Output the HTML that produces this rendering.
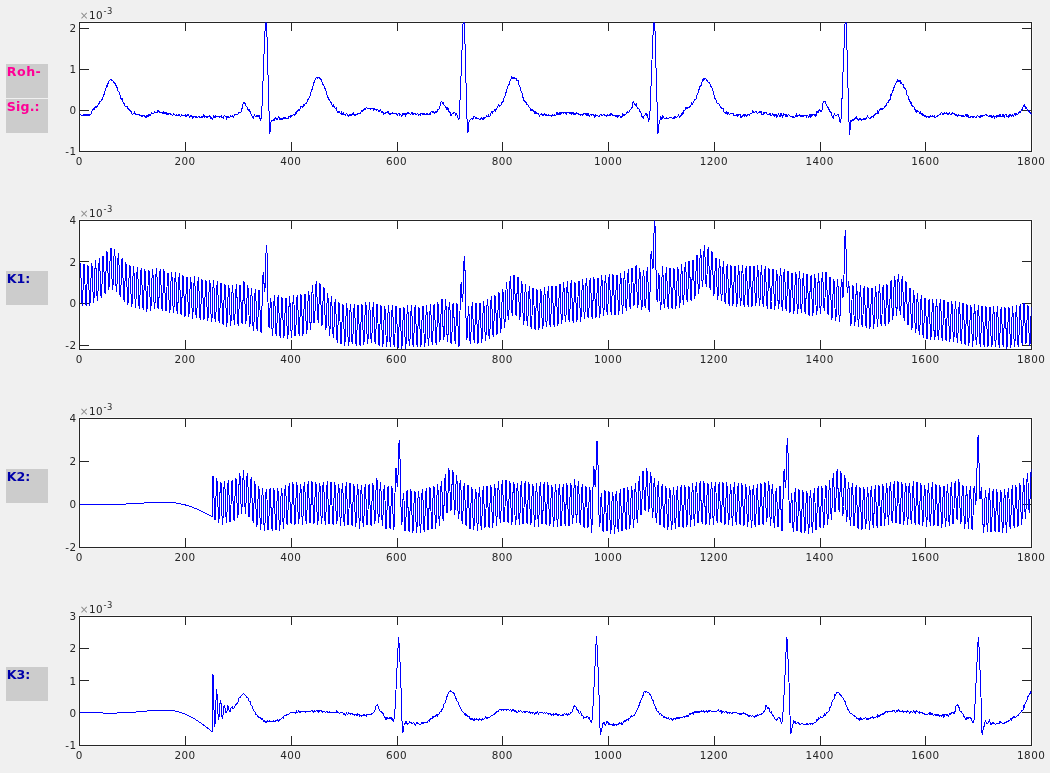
<!DOCTYPE html>
<html lang="de"><head><meta charset="utf-8"><title>Roh-Sig. K1 K2 K3</title>
<style>html,body{margin:0;padding:0;background:#f0f0f0;overflow:hidden}body{width:1050px;height:773px;position:relative}</style>
</head><body>
<svg width="1050" height="773" viewBox="0 0 1050 773" style="display:block;position:absolute;left:0;top:0">
<rect x="0" y="0" width="1050" height="773" fill="#f0f0f0"/>
<defs>
<clipPath id="c0"><rect x="79.5" y="22.5" width="952.0" height="129.0"/></clipPath>
<clipPath id="c1"><rect x="79.5" y="220.5" width="952.0" height="129.0"/></clipPath>
<clipPath id="c2"><rect x="79.5" y="418.5" width="952.0" height="129.0"/></clipPath>
<clipPath id="c3"><rect x="79.5" y="616.5" width="952.0" height="129.0"/></clipPath>
</defs>
<rect x="78.7" y="21.5" width="953.8" height="130.8" fill="#fff"/>
<g stroke="#262626" stroke-width="1" fill="none">
<rect x="79.5" y="22.5" width="952.0" height="129.0"/>
<path d="M185.50 151.5v-9.5M185.50 22.5v8.5"/>
<path d="M291.50 151.5v-9.5M291.50 22.5v8.5"/>
<path d="M397.50 151.5v-9.5M397.50 22.5v8.5"/>
<path d="M502.50 151.5v-9.5M502.50 22.5v8.5"/>
<path d="M608.50 151.5v-9.5M608.50 22.5v8.5"/>
<path d="M714.50 151.5v-9.5M714.50 22.5v8.5"/>
<path d="M820.50 151.5v-9.5M820.50 22.5v8.5"/>
<path d="M925.50 151.5v-9.5M925.50 22.5v8.5"/>
<path d="M79.5 110.50h9.5M1031.5 110.50h-9.5"/>
<path d="M79.5 69.50h9.5M1031.5 69.50h-9.5"/>
<path d="M79.5 28.50h9.5M1031.5 28.50h-9.5"/>
</g>
<polyline clip-path="url(#c0)" fill="none" stroke="#0000ff" stroke-width="1" shape-rendering="crispEdges" stroke-linejoin="round" points="80.3,114.9 80.8,114.6 81.3,115.1 81.9,115.7 82.4,115.5 82.9,115.9 83.5,115.0 84.0,113.7 84.5,115.0 85.0,115.5 85.6,114.6 86.1,114.5 86.6,114.7 87.2,115.7 87.7,115.0 88.2,114.0 88.7,115.4 89.3,114.6 89.8,115.2 90.3,114.4 90.9,114.1 91.4,112.0 91.9,111.7 92.4,109.5 93.0,108.8 93.5,108.6 94.0,110.3 94.6,108.5 95.1,107.2 95.6,106.5 96.1,107.5 96.7,106.5 97.2,106.3 97.7,105.9 98.3,103.8 98.8,104.6 99.3,103.6 99.8,101.7 100.4,101.9 100.9,100.9 101.4,99.7 102.0,98.7 102.5,99.0 103.0,97.0 103.5,94.1 104.1,94.9 104.6,91.9 105.1,90.5 105.7,89.9 106.2,86.2 106.7,85.3 107.3,86.1 107.8,84.3 108.3,82.4 108.8,81.8 109.4,80.1 109.9,80.2 110.4,79.6 111.0,78.7 111.5,80.4 112.0,80.3 112.5,80.9 113.1,80.8 113.6,82.2 114.1,82.8 114.7,83.2 115.2,83.0 115.7,83.6 116.2,86.7 116.8,87.8 117.3,87.4 117.8,90.6 118.4,91.3 118.9,92.1 119.4,92.3 119.9,94.2 120.5,96.8 121.0,98.5 121.5,99.4 122.1,98.7 122.6,101.0 123.1,102.3 123.6,102.6 124.2,103.9 124.7,104.7 125.2,106.2 125.8,106.1 126.3,106.9 126.8,106.3 127.3,107.0 127.9,108.4 128.4,108.6 128.9,109.9 129.5,109.3 130.0,110.4 130.5,110.6 131.1,112.6 131.6,112.0 132.1,113.9 132.6,114.9 133.2,113.7 133.7,114.0 134.2,113.4 134.8,111.6 135.3,114.0 135.8,114.7 136.3,114.2 136.9,113.9 137.4,114.7 137.9,115.0 138.5,114.3 139.0,114.4 139.5,115.9 140.0,115.5 140.6,115.3 141.1,116.4 141.6,115.6 142.2,116.3 142.7,115.0 143.2,115.3 143.7,115.5 144.3,116.1 144.8,115.9 145.3,117.4 145.9,117.0 146.4,115.5 146.9,117.3 147.4,115.2 148.0,116.7 148.5,114.9 149.0,115.7 149.6,114.4 150.1,114.4 150.6,115.8 151.1,113.5 151.7,112.4 152.2,113.4 152.7,113.6 153.3,113.3 153.8,113.6 154.3,111.7 154.9,112.5 155.4,112.2 155.9,112.6 156.4,112.5 157.0,113.0 157.5,110.9 158.0,111.6 158.6,111.0 159.1,111.6 159.6,112.5 160.1,112.4 160.7,112.6 161.2,112.2 161.7,112.5 162.3,112.6 162.8,113.6 163.3,113.4 163.8,111.2 164.4,112.9 164.9,113.8 165.4,112.8 166.0,111.7 166.5,114.1 167.0,113.7 167.5,113.9 168.1,115.2 168.6,113.3 169.1,113.6 169.7,113.8 170.2,114.6 170.7,113.8 171.2,114.6 171.8,114.5 172.3,115.4 172.8,115.8 173.4,113.7 173.9,114.9 174.4,114.7 174.9,114.9 175.5,115.4 176.0,115.6 176.5,114.7 177.1,115.4 177.6,115.5 178.1,115.4 178.7,114.4 179.2,114.7 179.7,115.1 180.2,116.1 180.8,117.0 181.3,115.2 181.8,114.7 182.4,115.7 182.9,115.4 183.4,115.1 183.9,115.0 184.5,115.0 185.0,116.2 185.5,114.8 186.1,116.8 186.6,115.6 187.1,115.5 187.6,115.2 188.2,114.3 188.7,114.4 189.2,116.9 189.8,117.9 190.3,115.9 190.8,116.9 191.3,116.5 191.9,115.5 192.4,117.5 192.9,118.5 193.5,116.5 194.0,116.2 194.5,116.5 195.0,116.3 195.6,117.1 196.1,117.9 196.6,116.8 197.2,117.3 197.7,118.0 198.2,116.3 198.8,116.3 199.3,116.1 199.8,117.2 200.3,117.2 200.9,117.5 201.4,117.4 201.9,116.5 202.5,117.1 203.0,116.3 203.5,116.1 204.0,114.6 204.6,117.3 205.1,116.0 205.6,116.4 206.2,116.5 206.7,117.8 207.2,117.3 207.7,116.0 208.3,116.5 208.8,116.5 209.3,116.8 209.9,115.6 210.4,116.3 210.9,118.5 211.4,117.7 212.0,118.5 212.5,119.9 213.0,117.8 213.6,115.6 214.1,116.3 214.6,117.7 215.1,117.7 215.7,115.9 216.2,116.3 216.7,116.6 217.3,116.7 217.8,116.7 218.3,116.0 218.8,116.0 219.4,116.4 219.9,117.6 220.4,116.5 221.0,117.2 221.5,115.9 222.0,117.6 222.5,117.2 223.1,116.8 223.6,118.0 224.1,115.6 224.7,115.1 225.2,116.9 225.7,116.2 226.3,116.3 226.8,119.1 227.3,117.2 227.8,116.8 228.4,116.8 228.9,117.8 229.4,117.3 230.0,117.1 230.5,115.9 231.0,116.3 231.5,116.8 232.1,115.5 232.6,116.8 233.1,116.9 233.7,117.9 234.2,115.0 234.7,114.6 235.2,114.6 235.8,114.6 236.3,115.0 236.8,114.8 237.4,114.9 237.9,114.5 238.4,113.8 238.9,112.0 239.5,112.0 240.0,112.3 240.5,112.4 241.1,112.1 241.6,109.6 242.1,108.3 242.6,106.5 243.2,103.3 243.7,102.8 244.2,102.9 244.8,102.7 245.3,104.5 245.8,105.5 246.3,106.3 246.9,106.9 247.4,109.1 247.9,109.0 248.5,110.0 249.0,109.3 249.5,111.1 250.1,111.2 250.6,111.3 251.1,114.0 251.6,115.9 252.2,116.4 252.7,117.0 253.2,118.5 253.8,117.2 254.3,114.5 254.8,115.7 255.3,116.1 255.9,116.8 256.4,115.7 256.9,116.8 257.5,117.0 258.0,114.8 258.5,116.1 259.0,114.8 259.6,116.4 260.1,119.8 260.6,120.4 261.2,117.6 261.7,114.4 262.2,101.7 262.7,89.0 263.3,74.4 263.8,59.3 264.3,45.9 264.9,34.2 265.4,22.0 265.9,10.2 266.4,20.9 267.0,36.6 267.5,55.8 268.0,75.0 268.6,95.0 269.1,114.3 269.6,133.5 270.1,131.3 270.7,126.3 271.2,120.0 271.7,120.1 272.3,120.2 272.8,121.1 273.3,119.3 273.9,120.5 274.4,120.1 274.9,118.0 275.4,117.6 276.0,118.4 276.5,120.0 277.0,119.2 277.6,119.2 278.1,118.1 278.6,116.4 279.1,117.8 279.7,119.2 280.2,119.8 280.7,118.9 281.3,118.7 281.8,119.6 282.3,118.7 282.8,119.6 283.4,117.9 283.9,117.4 284.4,117.5 285.0,118.6 285.5,117.9 286.0,118.0 286.5,118.2 287.1,118.0 287.6,118.6 288.1,118.8 288.7,116.6 289.2,116.8 289.7,116.4 290.2,115.4 290.8,117.5 291.3,117.0 291.8,115.8 292.4,115.2 292.9,115.6 293.4,114.3 294.0,114.5 294.5,115.7 295.0,115.2 295.5,113.0 296.1,112.4 296.6,114.0 297.1,111.0 297.7,110.4 298.2,109.4 298.7,110.2 299.2,109.9 299.8,110.1 300.3,106.5 300.8,107.5 301.4,106.0 301.9,107.0 302.4,106.3 302.9,107.3 303.5,106.1 304.0,104.2 304.5,105.4 305.1,103.4 305.6,103.1 306.1,103.6 306.6,102.4 307.2,101.3 307.7,99.9 308.2,99.2 308.8,98.6 309.3,97.2 309.8,96.4 310.3,95.2 310.9,92.5 311.4,89.8 311.9,90.1 312.5,87.7 313.0,86.3 313.5,85.2 314.0,82.4 314.6,82.0 315.1,79.2 315.6,79.5 316.2,77.7 316.7,77.8 317.2,78.3 317.8,77.1 318.3,77.4 318.8,77.2 319.3,77.8 319.9,79.1 320.4,78.9 320.9,79.5 321.5,79.6 322.0,82.0 322.5,82.7 323.0,85.0 323.6,84.4 324.1,86.5 324.6,88.7 325.2,88.9 325.7,89.1 326.2,92.8 326.7,94.7 327.3,96.0 327.8,97.8 328.3,97.5 328.9,99.3 329.4,100.4 329.9,100.3 330.4,102.2 331.0,102.4 331.5,104.1 332.0,105.3 332.6,106.7 333.1,104.2 333.6,106.0 334.1,106.7 334.7,107.6 335.2,108.1 335.7,108.7 336.3,107.6 336.8,110.3 337.3,111.9 337.8,112.1 338.4,112.7 338.9,111.5 339.4,111.2 340.0,113.0 340.5,113.9 341.0,113.3 341.6,111.7 342.1,115.2 342.6,113.4 343.1,114.3 343.7,112.9 344.2,114.5 344.7,114.4 345.3,115.4 345.8,115.3 346.3,113.2 346.8,113.3 347.4,114.6 347.9,115.4 348.4,116.5 349.0,115.4 349.5,114.8 350.0,114.7 350.5,114.7 351.1,115.6 351.6,114.9 352.1,114.6 352.7,113.4 353.2,112.6 353.7,114.2 354.2,115.2 354.8,114.7 355.3,114.9 355.8,115.1 356.4,114.4 356.9,115.0 357.4,113.6 357.9,113.7 358.5,113.3 359.0,113.3 359.5,113.5 360.1,113.5 360.6,112.4 361.1,112.1 361.6,111.0 362.2,110.5 362.7,111.2 363.2,109.8 363.8,110.2 364.3,109.5 364.8,108.7 365.3,109.9 365.9,108.2 366.4,107.6 366.9,107.9 367.5,108.2 368.0,108.2 368.5,108.8 369.1,108.4 369.6,108.5 370.1,108.1 370.6,109.2 371.2,108.3 371.7,108.2 372.2,108.6 372.8,109.0 373.3,108.4 373.8,110.3 374.3,109.0 374.9,108.9 375.4,109.1 375.9,109.2 376.5,110.2 377.0,110.3 377.5,109.6 378.0,109.8 378.6,110.2 379.1,112.0 379.6,110.7 380.2,109.9 380.7,110.1 381.2,111.0 381.7,112.9 382.3,111.2 382.8,111.8 383.3,114.3 383.9,112.4 384.4,113.6 384.9,113.9 385.4,113.4 386.0,111.7 386.5,112.9 387.0,112.8 387.6,111.4 388.1,111.3 388.6,113.0 389.2,113.5 389.7,114.5 390.2,114.3 390.7,113.3 391.3,113.1 391.8,113.5 392.3,112.8 392.9,114.2 393.4,114.0 393.9,113.2 394.4,113.2 395.0,112.8 395.5,113.3 396.0,114.1 396.6,113.7 397.1,114.8 397.6,115.7 398.1,113.9 398.7,114.0 399.2,113.8 399.7,115.5 400.3,114.8 400.8,114.7 401.3,115.0 401.8,116.3 402.4,114.9 402.9,113.4 403.4,113.6 404.0,114.6 404.5,114.3 405.0,113.5 405.5,116.4 406.1,114.9 406.6,113.7 407.1,113.4 407.7,112.5 408.2,112.8 408.7,113.6 409.2,113.8 409.8,113.4 410.3,114.4 410.8,114.3 411.4,113.3 411.9,112.2 412.4,113.8 412.9,114.2 413.5,114.0 414.0,112.9 414.5,113.9 415.1,112.8 415.6,114.7 416.1,114.5 416.7,114.4 417.2,113.5 417.7,113.0 418.2,115.2 418.8,115.3 419.3,114.0 419.8,114.7 420.4,115.6 420.9,113.6 421.4,113.5 421.9,113.6 422.5,114.5 423.0,113.3 423.5,114.1 424.1,113.2 424.6,114.7 425.1,115.1 425.6,114.2 426.2,114.7 426.7,113.7 427.2,113.8 427.8,114.9 428.3,114.3 428.8,114.4 429.3,113.4 429.9,114.5 430.4,114.4 430.9,112.7 431.5,111.2 432.0,111.0 432.5,112.6 433.0,112.7 433.6,111.3 434.1,112.2 434.6,113.2 435.2,112.1 435.7,111.1 436.2,111.7 436.8,112.2 437.3,111.8 437.8,109.4 438.3,109.7 438.9,109.0 439.4,108.1 439.9,106.5 440.5,104.9 441.0,102.1 441.5,101.5 442.0,102.1 442.6,103.4 443.1,102.4 443.6,103.7 444.2,105.3 444.7,105.9 445.2,106.4 445.7,106.2 446.3,108.7 446.8,109.4 447.3,109.3 447.9,107.3 448.4,109.2 448.9,111.5 449.4,112.1 450.0,111.8 450.5,114.3 451.0,115.6 451.6,114.5 452.1,113.9 452.6,113.1 453.1,114.1 453.7,112.3 454.2,111.9 454.7,113.0 455.3,113.2 455.8,115.6 456.3,113.8 456.8,114.0 457.4,116.0 457.9,118.1 458.4,119.7 459.0,119.6 459.5,113.3 460.0,100.4 460.6,86.8 461.1,73.5 461.6,59.8 462.1,48.0 462.7,31.9 463.2,19.5 463.7,7.5 464.3,18.1 464.8,35.1 465.3,56.6 465.8,75.7 466.4,95.2 466.9,114.1 467.4,132.9 468.0,132.3 468.5,126.2 469.0,122.4 469.5,120.5 470.1,119.8 470.6,119.5 471.1,118.9 471.7,118.9 472.2,118.7 472.7,119.7 473.2,118.5 473.8,116.6 474.3,116.1 474.8,116.7 475.4,117.5 475.9,118.9 476.4,117.4 476.9,118.3 477.5,118.7 478.0,118.9 478.5,118.7 479.1,119.1 479.6,119.0 480.1,119.8 480.6,119.5 481.2,117.0 481.7,118.6 482.2,119.3 482.8,118.4 483.3,117.8 483.8,119.1 484.3,118.4 484.9,116.9 485.4,117.0 485.9,117.0 486.5,115.5 487.0,116.9 487.5,116.5 488.1,116.6 488.6,114.6 489.1,117.0 489.6,116.3 490.2,115.4 490.7,113.7 491.2,112.9 491.8,111.7 492.3,113.6 492.8,111.6 493.3,111.4 493.9,111.4 494.4,109.8 494.9,110.3 495.5,111.1 496.0,109.2 496.5,109.3 497.0,108.2 497.6,106.6 498.1,106.0 498.6,104.4 499.2,105.2 499.7,106.3 500.2,105.5 500.7,105.0 501.3,104.7 501.8,102.2 502.3,101.8 502.9,102.2 503.4,99.1 503.9,98.2 504.4,96.9 505.0,95.9 505.5,93.9 506.0,92.6 506.6,90.0 507.1,88.8 507.6,87.4 508.2,85.7 508.7,85.7 509.2,83.7 509.7,82.2 510.3,80.5 510.8,80.5 511.3,76.9 511.9,76.9 512.4,78.2 512.9,78.8 513.4,77.6 514.0,77.3 514.5,78.1 515.0,77.7 515.6,78.5 516.1,78.4 516.6,80.3 517.1,80.9 517.7,80.9 518.2,80.4 518.7,84.3 519.3,85.7 519.8,87.0 520.3,87.2 520.8,90.2 521.4,91.7 521.9,92.9 522.4,95.4 523.0,97.4 523.5,98.0 524.0,100.4 524.5,101.2 525.1,101.2 525.6,101.5 526.1,102.7 526.7,105.0 527.2,105.0 527.7,104.3 528.2,105.0 528.8,106.3 529.3,107.9 529.8,107.4 530.4,108.9 530.9,110.3 531.4,110.7 532.0,109.1 532.5,110.2 533.0,110.2 533.5,112.0 534.1,111.6 534.6,113.1 535.1,113.3 535.7,111.0 536.2,112.1 536.7,113.8 537.2,113.9 537.8,113.7 538.3,113.0 538.8,114.5 539.4,116.2 539.9,115.3 540.4,114.9 540.9,114.8 541.5,113.8 542.0,114.5 542.5,114.4 543.1,116.1 543.6,114.9 544.1,113.4 544.6,114.3 545.2,115.1 545.7,115.3 546.2,113.9 546.8,115.9 547.3,115.8 547.8,115.1 548.3,114.7 548.9,115.7 549.4,115.3 549.9,115.6 550.5,115.4 551.0,115.5 551.5,116.4 552.0,115.7 552.6,114.6 553.1,116.0 553.6,115.7 554.2,114.7 554.7,116.0 555.2,115.2 555.8,116.0 556.3,114.2 556.8,112.6 557.3,112.5 557.9,114.4 558.4,113.9 558.9,114.0 559.5,114.0 560.0,112.5 560.5,114.6 561.0,112.9 561.6,113.2 562.1,112.0 562.6,112.6 563.2,113.5 563.7,112.8 564.2,112.2 564.7,112.7 565.3,112.5 565.8,113.3 566.3,115.0 566.9,112.7 567.4,112.2 567.9,112.8 568.4,113.0 569.0,112.2 569.5,113.3 570.0,113.9 570.6,113.6 571.1,112.3 571.6,114.4 572.1,112.7 572.7,113.8 573.2,114.7 573.7,112.8 574.3,113.5 574.8,115.0 575.3,114.5 575.8,113.2 576.4,112.7 576.9,114.2 577.4,113.9 578.0,113.5 578.5,114.7 579.0,114.2 579.5,114.4 580.1,114.9 580.6,115.1 581.1,114.6 581.7,114.6 582.2,115.2 582.7,115.2 583.3,113.9 583.8,114.4 584.3,114.0 584.8,113.7 585.4,114.2 585.9,112.9 586.4,115.3 587.0,114.5 587.5,115.2 588.0,113.5 588.5,113.2 589.1,116.5 589.6,116.5 590.1,114.8 590.7,114.4 591.2,114.4 591.7,115.1 592.2,114.9 592.8,114.6 593.3,115.2 593.8,114.4 594.4,117.1 594.9,115.3 595.4,116.1 595.9,114.7 596.5,115.3 597.0,116.2 597.5,115.2 598.1,116.1 598.6,116.4 599.1,116.9 599.6,115.7 600.2,114.9 600.7,114.3 601.2,115.3 601.8,114.5 602.3,115.1 602.8,115.4 603.4,114.9 603.9,114.3 604.4,115.4 604.9,115.7 605.5,115.6 606.0,115.3 606.5,116.1 607.1,114.7 607.6,115.5 608.1,115.0 608.6,116.0 609.2,115.2 609.7,114.9 610.2,115.7 610.8,113.7 611.3,114.6 611.8,113.7 612.3,114.1 612.9,115.7 613.4,115.9 613.9,115.1 614.5,115.2 615.0,115.3 615.5,115.6 616.0,117.0 616.6,116.0 617.1,117.4 617.6,115.5 618.2,115.9 618.7,116.2 619.2,115.7 619.7,115.2 620.3,116.6 620.8,117.2 621.3,116.7 621.9,117.3 622.4,116.4 622.9,113.7 623.4,115.2 624.0,114.1 624.5,115.3 625.0,114.1 625.6,114.1 626.1,113.8 626.6,112.9 627.1,111.4 627.7,112.1 628.2,112.0 628.7,112.5 629.3,110.9 629.8,110.9 630.3,109.6 630.9,109.7 631.4,107.8 631.9,109.0 632.4,106.0 633.0,101.7 633.5,101.6 634.0,103.1 634.6,103.5 635.1,105.2 635.6,105.0 636.1,103.4 636.7,104.9 637.2,107.8 637.7,108.8 638.3,109.0 638.8,108.4 639.3,110.4 639.8,111.6 640.4,111.3 640.9,112.1 641.4,114.4 642.0,116.4 642.5,117.6 643.0,117.5 643.5,118.5 644.1,115.2 644.6,115.3 645.1,114.6 645.7,113.1 646.2,113.4 646.7,115.5 647.2,114.2 647.8,115.9 648.3,119.9 648.8,121.2 649.4,119.0 649.9,115.3 650.4,99.4 650.9,88.7 651.5,74.9 652.0,60.3 652.5,46.6 653.1,32.8 653.6,20.1 654.1,9.0 654.7,19.4 655.2,37.5 655.7,55.7 656.2,75.3 656.8,94.2 657.3,113.3 657.8,133.7 658.4,131.4 658.9,125.6 659.4,120.6 659.9,120.9 660.5,118.1 661.0,116.6 661.5,119.4 662.1,118.3 662.6,115.5 663.1,116.6 663.6,117.5 664.2,118.0 664.7,118.4 665.2,118.2 665.8,118.5 666.3,117.4 666.8,118.2 667.3,118.5 667.9,119.2 668.4,118.4 668.9,118.9 669.5,118.5 670.0,117.2 670.5,117.6 671.0,117.6 671.6,117.8 672.1,118.1 672.6,118.3 673.2,118.3 673.7,117.2 674.2,118.4 674.8,116.4 675.3,116.8 675.8,117.5 676.3,117.3 676.9,117.1 677.4,116.2 677.9,116.6 678.5,114.9 679.0,116.0 679.5,117.5 680.0,116.2 680.6,116.8 681.1,115.1 681.6,113.2 682.2,112.8 682.7,114.1 683.2,113.5 683.7,110.6 684.3,110.8 684.8,110.9 685.3,109.5 685.9,107.5 686.4,107.7 686.9,108.4 687.4,107.9 688.0,107.1 688.5,107.6 689.0,107.8 689.6,106.5 690.1,106.7 690.6,105.7 691.1,104.9 691.7,102.5 692.2,104.4 692.7,103.9 693.3,102.8 693.8,101.3 694.3,99.7 694.8,100.0 695.4,99.6 695.9,99.4 696.4,98.0 697.0,95.1 697.5,93.6 698.0,93.1 698.6,91.2 699.1,89.1 699.6,87.1 700.1,86.4 700.7,85.0 701.2,85.1 701.7,83.6 702.3,79.8 702.8,81.3 703.3,79.7 703.8,78.6 704.4,78.9 704.9,79.3 705.4,78.9 706.0,78.9 706.5,79.2 707.0,81.1 707.5,80.7 708.1,81.8 708.6,82.6 709.1,82.8 709.7,83.4 710.2,84.1 710.7,86.3 711.2,86.4 711.8,87.3 712.3,88.8 712.8,90.1 713.4,93.1 713.9,95.1 714.4,95.9 714.9,98.9 715.5,98.9 716.0,100.2 716.5,101.2 717.1,103.4 717.6,103.9 718.1,103.9 718.6,103.6 719.2,104.0 719.7,105.6 720.2,106.6 720.8,107.9 721.3,107.6 721.8,108.6 722.4,108.7 722.9,108.0 723.4,109.8 723.9,112.0 724.5,112.2 725.0,113.1 725.5,113.5 726.1,111.7 726.6,112.3 727.1,114.3 727.6,112.9 728.2,112.1 728.7,113.6 729.2,114.4 729.8,114.4 730.3,114.0 730.8,113.7 731.3,113.4 731.9,113.4 732.4,113.5 732.9,113.4 733.5,114.1 734.0,116.3 734.5,115.7 735.0,115.1 735.6,115.7 736.1,114.7 736.6,115.6 737.2,116.4 737.7,114.4 738.2,114.6 738.7,115.1 739.3,114.6 739.8,114.3 740.3,114.9 740.9,117.6 741.4,116.6 741.9,116.0 742.4,116.4 743.0,115.5 743.5,114.3 744.0,115.5 744.6,116.5 745.1,113.8 745.6,115.2 746.1,116.3 746.7,115.1 747.2,114.5 747.7,115.3 748.3,114.1 748.8,114.7 749.3,115.2 749.9,114.1 750.4,113.1 750.9,114.0 751.4,113.2 752.0,113.2 752.5,110.5 753.0,112.9 753.6,111.7 754.1,112.4 754.6,112.8 755.1,112.1 755.7,111.7 756.2,111.4 756.7,112.1 757.3,113.2 757.8,113.4 758.3,112.5 758.8,112.2 759.4,111.6 759.9,112.3 760.4,112.0 761.0,111.5 761.5,112.7 762.0,114.5 762.5,114.7 763.1,114.9 763.6,112.4 764.1,114.0 764.7,112.7 765.2,112.9 765.7,112.2 766.2,112.6 766.8,113.9 767.3,114.3 767.8,114.1 768.4,114.1 768.9,114.7 769.4,114.5 769.9,113.0 770.5,115.7 771.0,114.8 771.5,115.4 772.1,114.8 772.6,114.0 773.1,114.7 773.7,114.3 774.2,116.2 774.7,114.4 775.2,115.4 775.8,114.7 776.3,114.9 776.8,117.5 777.4,116.5 777.9,115.3 778.4,113.9 778.9,114.8 779.5,115.1 780.0,116.6 780.5,114.5 781.1,113.5 781.6,115.0 782.1,115.7 782.6,117.0 783.2,115.1 783.7,113.0 784.2,114.3 784.8,114.3 785.3,114.8 785.8,116.3 786.3,114.6 786.9,116.4 787.4,116.1 787.9,115.4 788.5,114.8 789.0,115.1 789.5,115.2 790.0,116.2 790.6,117.0 791.1,115.9 791.6,116.3 792.2,117.0 792.7,117.1 793.2,116.4 793.8,117.4 794.3,117.3 794.8,117.4 795.3,115.9 795.9,115.3 796.4,113.8 796.9,116.6 797.5,116.6 798.0,115.0 798.5,115.7 799.0,116.0 799.6,114.3 800.1,115.6 800.6,116.8 801.2,117.1 801.7,115.7 802.2,115.4 802.7,116.9 803.3,116.9 803.8,115.5 804.3,115.1 804.9,116.2 805.4,115.3 805.9,115.1 806.4,117.2 807.0,116.4 807.5,115.4 808.0,116.1 808.6,117.8 809.1,116.5 809.6,115.1 810.1,114.2 810.7,117.3 811.2,113.9 811.7,116.2 812.3,115.0 812.8,114.1 813.3,114.0 813.8,114.6 814.4,115.7 814.9,114.3 815.4,114.8 816.0,116.5 816.5,112.0 817.0,112.5 817.6,111.5 818.1,113.2 818.6,111.3 819.1,110.2 819.7,109.7 820.2,110.7 820.7,111.6 821.3,110.5 821.8,111.4 822.3,109.1 822.8,104.4 823.4,101.1 823.9,101.1 824.4,101.8 825.0,100.9 825.5,101.9 826.0,104.2 826.5,104.3 827.1,106.6 827.6,107.5 828.1,107.0 828.7,109.4 829.2,109.8 829.7,111.3 830.2,111.5 830.8,111.2 831.3,114.2 831.8,115.2 832.4,116.9 832.9,118.0 833.4,118.7 833.9,115.5 834.5,113.2 835.0,114.6 835.5,116.0 836.1,115.0 836.6,115.6 837.1,114.8 837.6,115.0 838.2,115.1 838.7,114.9 839.2,118.2 839.8,120.7 840.3,122.5 840.8,120.2 841.4,116.0 841.9,101.6 842.4,88.5 842.9,74.3 843.5,60.2 844.0,48.3 844.5,34.7 845.1,22.2 845.6,9.2 846.1,19.5 846.6,35.5 847.2,56.2 847.7,74.3 848.2,96.0 848.8,113.4 849.3,134.1 849.8,134.1 850.3,125.3 850.9,120.0 851.4,121.9 851.9,120.7 852.5,120.1 853.0,119.5 853.5,120.5 854.0,119.7 854.6,118.5 855.1,118.5 855.6,117.7 856.2,118.5 856.7,116.8 857.2,119.1 857.7,118.9 858.3,120.6 858.8,120.6 859.3,118.2 859.9,119.6 860.4,118.9 860.9,119.1 861.4,120.1 862.0,119.7 862.5,119.8 863.0,119.8 863.6,118.7 864.1,118.6 864.6,119.5 865.1,119.9 865.7,118.8 866.2,118.7 866.7,117.6 867.3,115.7 867.8,116.8 868.3,117.8 868.9,118.0 869.4,118.4 869.9,118.5 870.4,118.4 871.0,117.7 871.5,117.4 872.0,116.2 872.6,116.8 873.1,116.7 873.6,117.4 874.1,114.9 874.7,115.1 875.2,114.0 875.7,114.1 876.3,113.2 876.8,114.0 877.3,113.0 877.8,110.5 878.4,113.1 878.9,111.3 879.4,109.8 880.0,110.2 880.5,109.7 881.0,108.6 881.5,109.7 882.1,108.7 882.6,109.1 883.1,108.7 883.7,108.2 884.2,107.3 884.7,106.5 885.2,105.8 885.8,107.0 886.3,103.9 886.8,103.2 887.4,102.8 887.9,103.0 888.4,102.0 888.9,100.4 889.5,99.4 890.0,100.4 890.5,97.6 891.1,93.5 891.6,95.8 892.1,92.8 892.7,91.2 893.2,90.2 893.7,87.5 894.2,88.0 894.8,86.1 895.3,83.4 895.8,83.4 896.4,82.8 896.9,81.2 897.4,81.2 897.9,79.4 898.5,81.0 899.0,79.9 899.5,81.7 900.1,80.6 900.6,81.1 901.1,83.9 901.6,83.0 902.2,84.2 902.7,84.8 903.2,83.9 903.8,86.9 904.3,88.4 904.8,87.2 905.3,88.9 905.9,89.4 906.4,91.7 906.9,94.6 907.5,95.8 908.0,96.1 908.5,97.6 909.0,99.5 909.6,100.6 910.1,101.7 910.6,103.1 911.2,101.9 911.7,104.1 912.2,106.3 912.8,106.6 913.3,106.0 913.8,106.5 914.3,107.9 914.9,109.3 915.4,109.4 915.9,111.5 916.5,112.1 917.0,110.5 917.5,111.7 918.0,111.7 918.6,111.2 919.1,112.0 919.6,113.2 920.2,111.7 920.7,112.8 921.2,114.2 921.7,113.6 922.3,113.9 922.8,115.3 923.3,114.9 923.9,115.1 924.4,117.0 924.9,116.0 925.4,115.9 926.0,116.2 926.5,117.4 927.0,116.6 927.6,116.1 928.1,116.0 928.6,117.2 929.1,116.0 929.7,117.3 930.2,116.8 930.7,115.2 931.3,116.7 931.8,116.9 932.3,115.4 932.8,116.4 933.4,116.6 933.9,116.0 934.4,115.1 935.0,117.8 935.5,117.2 936.0,116.9 936.6,116.9 937.1,116.5 937.6,116.3 938.1,115.0 938.7,115.6 939.2,114.7 939.7,114.0 940.3,114.8 940.8,114.1 941.3,112.3 941.8,113.0 942.4,114.1 942.9,113.7 943.4,114.3 944.0,113.4 944.5,112.6 945.0,114.0 945.5,113.9 946.1,112.6 946.6,113.8 947.1,113.5 947.7,114.5 948.2,114.7 948.7,114.4 949.2,112.0 949.8,113.7 950.3,114.5 950.8,114.6 951.4,114.3 951.9,113.6 952.4,113.9 952.9,112.4 953.5,113.7 954.0,113.1 954.5,114.0 955.1,114.0 955.6,115.8 956.1,115.2 956.6,114.9 957.2,115.2 957.7,117.0 958.2,114.8 958.8,115.3 959.3,115.7 959.8,115.6 960.4,115.6 960.9,115.1 961.4,116.5 961.9,116.6 962.5,115.5 963.0,115.4 963.5,116.0 964.1,116.3 964.6,116.6 965.1,116.0 965.6,114.8 966.2,116.5 966.7,114.8 967.2,114.8 967.8,116.2 968.3,115.4 968.8,117.1 969.3,117.9 969.9,117.6 970.4,116.7 970.9,116.5 971.5,116.6 972.0,116.1 972.5,118.0 973.0,116.2 973.6,117.3 974.1,117.0 974.6,116.7 975.2,117.3 975.7,117.6 976.2,117.4 976.7,116.4 977.3,115.6 977.8,115.5 978.3,116.9 978.9,117.1 979.4,117.2 979.9,116.0 980.4,117.9 981.0,115.5 981.5,116.3 982.0,117.0 982.6,116.0 983.1,115.2 983.6,115.6 984.1,115.1 984.7,115.8 985.2,115.0 985.7,114.8 986.3,115.9 986.8,114.9 987.3,115.7 987.9,116.0 988.4,116.9 988.9,116.6 989.4,115.5 990.0,117.1 990.5,115.8 991.0,115.6 991.6,115.8 992.1,118.0 992.6,116.7 993.1,115.5 993.7,116.6 994.2,116.2 994.7,118.2 995.3,116.0 995.8,116.5 996.3,115.4 996.8,117.5 997.4,115.8 997.9,116.1 998.4,115.4 999.0,116.7 999.5,116.8 1000.0,114.2 1000.5,116.3 1001.1,116.8 1001.6,116.4 1002.1,117.0 1002.7,115.2 1003.2,114.2 1003.7,116.2 1004.2,117.7 1004.8,115.3 1005.3,114.7 1005.8,115.0 1006.4,114.8 1006.9,116.5 1007.4,116.3 1007.9,117.2 1008.5,117.5 1009.0,115.4 1009.5,116.3 1010.1,114.1 1010.6,115.4 1011.1,116.5 1011.7,115.4 1012.2,114.2 1012.7,115.0 1013.2,116.6 1013.8,115.3 1014.3,113.9 1014.8,115.1 1015.4,115.6 1015.9,113.8 1016.4,114.0 1016.9,115.1 1017.5,114.5 1018.0,114.4 1018.5,113.0 1019.1,112.5 1019.6,111.2 1020.1,110.8 1020.6,112.5 1021.2,110.8 1021.7,109.4 1022.2,109.2 1022.8,107.1 1023.3,106.2 1023.8,106.1 1024.3,104.5 1024.9,106.5 1025.4,108.5 1025.9,106.6 1026.5,108.1 1027.0,108.7 1027.5,110.2 1028.0,110.9 1028.6,111.3 1029.1,111.1 1029.6,110.8 1030.2,113.5 1030.7,112.1 1031.2,114.0 1031.8,115.2"/>
<g font-family="'DejaVu Sans','Liberation Sans',sans-serif" font-size="10.4px" letter-spacing="0.45px" fill="#262626">
<text x="79.20" y="164.9" text-anchor="middle">0</text>
<text x="184.98" y="164.9" text-anchor="middle">200</text>
<text x="290.76" y="164.9" text-anchor="middle">400</text>
<text x="396.53" y="164.9" text-anchor="middle">600</text>
<text x="502.31" y="164.9" text-anchor="middle">800</text>
<text x="608.09" y="164.9" text-anchor="middle">1000</text>
<text x="713.87" y="164.9" text-anchor="middle">1200</text>
<text x="819.64" y="164.9" text-anchor="middle">1400</text>
<text x="925.42" y="164.9" text-anchor="middle">1600</text>
<text x="1031.20" y="164.9" text-anchor="middle">1800</text>
<text x="76.5" y="155.20" text-anchor="end">-1</text>
<text x="76.5" y="114.25" text-anchor="end">0</text>
<text x="76.5" y="73.30" text-anchor="end">1</text>
<text x="76.5" y="32.34" text-anchor="end">2</text>
<text x="79.77" y="18.7" fill="#8c8c8c">×</text>
<text x="89.00" y="18.7">10</text>
<text x="103.60" y="13.9" font-size="8.4px">-3</text>
</g>
<rect x="78.7" y="219.5" width="953.8" height="130.8" fill="#fff"/>
<g stroke="#262626" stroke-width="1" fill="none">
<rect x="79.5" y="220.5" width="952.0" height="129.0"/>
<path d="M185.50 349.5v-9.5M185.50 220.5v8.5"/>
<path d="M291.50 349.5v-9.5M291.50 220.5v8.5"/>
<path d="M397.50 349.5v-9.5M397.50 220.5v8.5"/>
<path d="M502.50 349.5v-9.5M502.50 220.5v8.5"/>
<path d="M608.50 349.5v-9.5M608.50 220.5v8.5"/>
<path d="M714.50 349.5v-9.5M714.50 220.5v8.5"/>
<path d="M820.50 349.5v-9.5M820.50 220.5v8.5"/>
<path d="M925.50 349.5v-9.5M925.50 220.5v8.5"/>
<path d="M79.5 345.50h9.5M1031.5 345.50h-9.5"/>
<path d="M79.5 303.50h9.5M1031.5 303.50h-9.5"/>
<path d="M79.5 261.50h9.5M1031.5 261.50h-9.5"/>
</g>
<polyline clip-path="url(#c1)" fill="none" stroke="#0000ff" stroke-width="1" shape-rendering="crispEdges" stroke-linejoin="round" points="80.3,263.0 80.8,270.6 81.3,287.7 81.9,302.9 82.4,305.1 82.9,293.3 83.5,275.3 84.0,263.9 84.5,268.5 85.0,284.4 85.6,300.2 86.1,305.4 86.6,295.9 87.2,278.9 87.7,265.6 88.2,266.1 88.7,280.9 89.3,297.7 89.8,306.0 90.3,298.7 90.9,281.6 91.4,265.8 91.9,263.5 92.4,274.6 93.0,291.8 93.5,302.3 94.0,299.1 94.6,282.4 95.1,265.5 95.6,260.2 96.1,270.4 96.7,287.5 97.2,300.2 97.7,298.9 98.3,283.6 98.8,266.9 99.3,258.6 99.8,264.8 100.4,281.8 100.9,296.0 101.4,297.3 102.0,284.6 102.5,267.1 103.0,255.7 103.5,258.6 104.1,274.9 104.6,289.5 105.1,293.7 105.7,283.4 106.2,264.0 106.7,251.0 107.3,252.7 107.8,266.1 108.3,282.3 108.8,289.7 109.4,281.5 109.9,264.6 110.4,249.8 111.0,247.7 111.5,260.9 112.0,278.5 112.5,289.1 113.1,284.6 113.6,269.4 114.1,253.7 114.7,249.3 115.2,259.3 115.7,277.2 116.2,291.4 116.8,290.5 117.3,275.9 117.8,260.5 118.4,253.4 118.9,261.3 119.4,278.5 119.9,294.0 120.5,296.9 121.0,285.3 121.5,268.2 122.1,257.8 122.6,263.7 123.1,280.4 123.6,296.6 124.2,301.7 124.7,292.0 125.2,275.2 125.8,262.8 126.3,264.9 126.8,279.2 127.3,296.7 127.9,304.7 128.4,297.2 128.9,280.8 129.5,266.2 130.0,265.5 130.5,278.3 131.1,296.9 131.6,306.6 132.1,302.8 132.6,287.3 133.2,270.8 133.7,266.8 134.2,276.9 134.8,293.6 135.3,307.2 135.8,305.7 136.3,290.8 136.9,273.8 137.4,267.1 137.9,275.2 138.5,292.0 139.0,306.4 139.5,308.3 140.0,295.4 140.6,277.8 141.1,268.6 141.6,273.3 142.2,290.0 142.7,305.1 143.2,309.4 143.7,299.1 144.3,281.8 144.8,269.7 145.3,272.6 145.9,287.2 146.4,303.4 146.9,311.3 147.4,302.3 148.0,286.0 148.5,271.1 149.0,270.6 149.6,282.9 150.1,300.5 150.6,310.9 151.1,304.6 151.7,287.8 152.2,272.7 152.7,269.0 153.3,279.6 153.8,297.5 154.3,308.5 154.9,306.7 155.4,291.8 155.9,275.2 156.4,268.5 157.0,277.0 157.5,293.2 158.0,307.7 158.6,308.1 159.1,295.5 159.6,278.5 160.1,269.1 160.7,274.7 161.2,290.9 161.7,306.7 162.3,310.6 162.8,300.3 163.3,282.7 163.8,269.8 164.4,273.2 164.9,288.8 165.4,305.1 166.0,311.2 166.5,304.2 167.0,286.8 167.5,273.1 168.1,273.3 168.6,285.6 169.1,303.3 169.7,312.7 170.2,307.7 170.7,291.0 171.2,275.9 171.8,272.5 172.3,284.0 172.8,301.9 173.4,312.6 173.9,310.7 174.4,295.6 174.9,279.0 175.5,273.0 176.0,281.7 176.5,298.6 177.1,312.8 177.6,313.3 178.1,300.1 178.7,282.2 179.2,273.3 179.7,279.4 180.2,296.5 180.8,312.5 181.3,315.0 181.8,303.7 182.4,286.6 182.9,275.0 183.4,277.8 183.9,293.0 184.5,309.8 185.0,316.7 185.5,307.4 186.1,291.2 186.6,277.0 187.1,276.9 187.6,290.3 188.2,307.4 188.7,316.5 189.2,311.9 189.8,296.0 190.3,279.7 190.8,277.2 191.3,288.3 191.9,305.6 192.4,318.1 192.9,315.7 193.5,299.5 194.0,282.8 194.5,277.0 195.0,285.9 195.6,303.8 196.1,317.8 196.6,317.3 197.2,304.1 197.7,287.2 198.2,277.6 198.8,283.9 199.3,300.5 199.8,316.4 200.3,319.4 200.9,308.2 201.4,290.7 201.9,279.0 202.5,282.7 203.0,297.8 203.5,314.3 204.0,319.5 204.6,312.0 205.1,294.0 205.6,280.9 206.2,281.3 206.7,295.8 207.2,312.9 207.7,321.0 208.3,315.0 208.8,298.5 209.3,283.6 209.9,280.3 210.4,292.4 210.9,311.3 211.4,322.0 212.0,319.2 212.5,304.5 213.0,287.1 213.6,280.4 214.1,290.0 214.6,308.3 215.1,321.7 215.7,320.4 216.2,306.9 216.7,289.9 217.3,281.6 217.8,288.2 218.3,304.7 218.8,319.9 219.4,322.8 219.9,311.7 220.4,293.6 221.0,283.2 221.5,286.2 222.0,302.8 222.5,319.0 223.1,324.5 223.6,315.8 224.1,297.2 224.7,284.0 225.2,285.6 225.7,299.3 226.3,316.7 226.8,326.5 227.3,319.0 227.8,302.1 228.4,287.3 228.9,285.5 229.4,297.3 230.0,314.9 230.5,325.2 231.0,321.7 231.5,306.5 232.1,289.6 232.6,285.0 233.1,294.7 233.7,312.8 234.2,324.5 234.7,323.6 235.2,309.6 235.8,292.5 236.3,284.7 236.8,291.6 237.4,308.6 237.9,323.3 238.4,325.3 238.9,312.4 239.5,294.9 240.0,284.6 240.5,288.7 241.1,304.4 241.6,319.5 242.1,324.1 242.6,313.6 243.2,294.6 243.7,281.5 244.2,282.7 244.8,296.9 245.3,315.1 245.8,323.6 246.3,317.1 246.9,300.6 247.4,287.1 247.9,285.2 248.5,298.0 249.0,315.3 249.5,326.9 250.1,322.9 250.6,307.2 251.1,292.5 251.6,288.6 252.2,298.9 252.7,316.8 253.2,330.4 253.8,328.7 254.3,313.1 254.8,296.7 255.3,289.3 255.9,296.9 256.4,313.5 256.9,328.7 257.5,330.8 258.0,317.5 258.5,300.7 259.0,289.8 259.6,295.0 260.1,312.8 260.6,329.3 261.2,332.7 261.7,321.2 262.2,297.3 262.7,278.3 263.3,272.4 263.8,279.2 264.3,289.6 264.9,291.3 265.4,277.8 265.9,254.9 266.4,245.9 267.0,252.4 267.5,274.7 268.0,302.2 268.6,322.7 269.1,328.1 269.6,322.0 270.1,304.9 270.7,298.0 271.2,305.0 271.7,322.7 272.3,335.3 272.8,334.3 273.3,319.0 273.9,302.7 274.4,295.2 274.9,301.8 275.4,318.8 276.0,333.7 276.5,336.0 277.0,323.1 277.6,305.6 278.1,295.2 278.6,299.1 279.1,316.1 279.7,332.8 280.2,337.6 280.7,326.9 281.3,309.4 281.8,297.6 282.3,299.0 282.8,314.1 283.4,330.4 283.9,337.5 284.4,329.8 285.0,313.4 285.5,298.9 286.0,297.8 286.5,310.7 287.1,328.2 287.6,338.5 288.1,333.8 288.7,316.6 289.2,301.0 289.7,296.7 290.2,306.7 290.8,325.5 291.3,337.5 291.8,335.0 292.4,320.1 292.9,303.5 293.4,295.9 294.0,304.0 294.5,321.8 295.0,335.8 295.5,335.9 296.1,322.8 296.6,306.2 297.1,295.1 297.7,300.0 298.2,315.7 298.7,332.0 299.2,336.0 299.8,325.5 300.3,306.2 300.8,294.7 301.4,296.2 301.9,311.6 302.4,328.2 302.9,335.7 303.5,327.1 304.0,309.0 304.5,295.7 305.1,293.9 305.6,306.8 306.1,324.7 306.6,333.7 307.2,327.9 307.7,311.0 308.2,295.1 308.8,291.0 309.3,301.1 309.8,318.4 310.3,329.8 310.9,326.2 311.4,310.0 311.9,293.4 312.5,285.5 313.0,293.2 313.5,309.9 314.0,322.5 314.6,323.0 315.1,308.6 315.6,291.4 316.2,281.2 316.7,286.7 317.2,303.4 317.8,318.5 318.3,322.4 318.8,311.4 319.3,294.2 319.9,283.2 320.4,285.7 320.9,301.1 321.5,317.9 322.0,325.7 322.5,317.8 323.0,301.8 323.6,287.7 324.1,288.4 324.6,302.8 325.2,320.4 325.7,329.8 326.2,326.1 326.7,310.7 327.3,296.0 327.8,293.5 328.3,304.5 328.9,323.1 329.4,335.4 329.9,332.7 330.4,318.6 331.0,302.1 331.5,296.7 332.0,305.9 332.6,324.0 333.1,336.5 333.6,337.8 334.1,324.8 334.7,307.9 335.2,299.2 335.7,305.4 336.3,321.4 336.8,338.3 337.3,342.4 337.8,331.3 338.4,314.1 338.9,302.0 339.4,304.9 340.0,321.0 340.5,338.2 341.0,344.1 341.6,334.6 342.1,319.1 342.6,304.7 343.1,305.1 343.7,317.9 344.2,336.2 344.7,345.1 345.3,339.6 345.8,323.1 346.3,306.7 346.8,303.8 347.4,315.8 347.9,333.9 348.4,345.9 349.0,342.3 349.5,326.7 350.0,310.1 350.5,304.2 351.1,313.6 351.6,330.7 352.1,344.1 352.7,343.4 353.2,329.4 353.7,312.9 354.2,304.8 354.8,310.7 355.3,327.5 355.8,342.9 356.4,345.5 356.9,334.3 357.4,316.0 357.9,304.9 358.5,308.0 359.0,323.5 359.5,340.1 360.1,345.9 360.6,336.4 361.1,318.8 361.6,304.9 362.2,305.0 362.7,319.2 363.2,335.8 363.8,344.6 364.3,337.9 364.8,320.8 365.3,306.4 365.9,302.8 366.4,314.2 366.9,332.0 367.5,343.3 368.0,339.8 368.5,324.6 369.1,308.0 369.6,302.5 370.1,311.6 370.6,329.6 371.2,342.4 371.7,341.9 372.2,328.2 372.8,311.2 373.3,302.5 373.8,310.1 374.3,326.2 374.9,341.2 375.4,343.8 375.9,332.1 376.5,315.0 377.0,304.2 377.5,307.5 378.0,323.2 378.6,339.8 379.1,346.2 379.6,336.2 380.2,318.3 380.7,305.3 381.2,306.5 381.7,321.4 382.3,337.8 382.8,346.3 383.3,340.9 383.9,323.1 384.4,308.8 384.9,306.7 385.4,318.4 386.0,335.2 386.5,346.5 387.0,342.6 387.6,326.3 388.1,309.9 388.6,305.5 389.2,315.4 389.7,333.4 390.2,346.3 390.7,344.9 391.3,330.7 391.8,313.7 392.3,305.3 392.9,312.9 393.4,329.7 393.9,344.1 394.4,346.2 395.0,334.0 395.5,316.6 396.0,306.4 396.6,310.3 397.1,326.6 397.6,343.3 398.1,347.4 398.7,337.7 399.2,320.1 399.7,308.1 400.3,308.8 400.8,323.0 401.3,340.3 401.8,348.8 402.4,341.0 402.9,323.3 403.4,308.7 404.0,307.3 404.5,319.3 405.0,336.5 405.5,348.4 406.1,343.4 406.6,326.9 407.1,310.6 407.7,305.3 408.2,315.3 408.7,333.3 409.2,346.0 409.8,344.5 410.3,330.7 410.8,313.5 411.4,305.4 411.9,312.0 412.4,329.8 412.9,344.6 413.5,346.2 414.0,333.3 414.5,316.1 415.1,305.3 415.6,310.7 416.1,326.5 416.7,342.4 417.2,346.7 417.7,336.4 418.2,319.9 418.8,307.3 419.3,308.2 419.8,322.9 420.4,340.4 420.9,346.8 421.4,339.3 421.9,322.3 422.5,308.2 423.0,306.1 423.5,319.0 424.1,336.1 424.6,346.9 425.1,342.4 425.6,325.9 426.2,310.2 426.7,305.1 427.2,315.3 427.8,333.5 428.3,345.5 428.8,343.9 429.3,328.8 429.9,312.3 430.4,304.9 430.9,311.6 431.5,327.9 432.0,342.1 432.5,344.2 433.0,331.6 433.6,313.3 434.1,303.8 434.6,309.0 435.2,324.6 435.7,339.9 436.2,344.5 436.8,334.4 437.3,316.5 437.8,302.9 438.3,304.9 438.9,319.1 439.4,335.6 439.9,341.9 440.5,333.2 441.0,314.6 441.5,300.0 442.0,299.1 442.6,312.5 443.1,329.5 443.6,339.9 444.2,335.7 444.7,319.7 445.2,304.1 445.7,299.9 446.3,311.6 446.8,329.5 447.3,341.5 447.9,338.4 448.4,324.6 448.9,308.8 449.4,302.1 450.0,309.8 450.5,328.2 451.0,342.9 451.6,343.3 452.1,330.0 452.6,312.0 453.1,302.9 453.7,307.0 454.2,323.1 454.7,339.3 455.3,343.2 455.8,333.7 456.3,315.1 456.8,303.2 457.4,306.4 457.9,322.2 458.4,339.8 459.0,346.5 459.5,335.1 460.0,311.2 460.6,290.2 461.1,282.6 461.6,288.6 462.1,300.0 462.7,301.2 463.2,289.4 463.7,266.9 464.3,256.6 464.8,261.5 465.3,283.2 465.8,310.5 466.4,332.2 466.9,339.3 467.4,333.9 468.0,316.7 468.5,306.9 469.0,313.2 469.5,329.4 470.1,342.9 470.6,343.2 471.1,329.7 471.7,312.2 472.2,302.7 472.7,308.7 473.2,324.4 473.8,338.8 474.3,342.1 474.8,331.3 475.4,314.0 475.9,302.9 476.4,304.7 476.9,320.1 477.5,337.0 478.0,343.5 478.5,334.8 479.1,317.6 479.6,303.7 480.1,303.7 480.6,316.7 481.2,332.8 481.7,342.7 482.2,337.2 482.8,320.2 483.3,304.4 483.8,301.6 484.3,312.3 484.9,329.1 485.4,340.6 485.9,337.7 486.5,321.7 487.0,305.6 487.5,299.1 488.1,307.6 488.6,323.9 489.1,338.7 489.6,338.5 490.2,324.5 490.7,306.1 491.2,296.7 491.8,301.8 492.3,319.2 492.8,333.5 493.3,336.5 493.9,325.1 494.4,306.6 494.9,295.3 495.5,298.6 496.0,312.8 496.5,329.4 497.0,334.8 497.6,325.1 498.1,307.3 498.6,292.9 499.2,293.2 499.7,307.2 500.2,324.1 500.7,332.5 501.3,326.2 501.8,308.2 502.3,292.6 502.9,289.8 503.4,299.5 503.9,316.6 504.4,327.1 505.0,323.3 505.5,306.8 506.0,289.6 506.6,282.2 507.1,290.5 507.6,307.1 508.2,319.5 508.7,319.2 509.2,304.4 509.7,286.2 510.3,276.6 510.8,282.8 511.3,297.5 511.9,312.6 512.4,316.0 512.9,304.6 513.4,286.2 514.0,274.8 514.5,278.5 515.0,293.7 515.6,310.4 516.1,316.0 516.6,307.7 517.1,290.5 517.7,277.1 518.2,277.1 518.7,292.8 519.3,310.7 519.8,319.7 520.3,313.3 520.8,298.0 521.4,283.6 521.9,281.5 522.4,294.3 523.0,312.9 523.5,324.1 524.0,321.6 524.5,306.4 525.1,289.9 525.6,284.4 526.1,294.2 526.7,312.8 527.2,325.8 527.7,324.7 528.2,311.1 528.8,294.4 529.3,286.8 529.8,293.1 530.4,310.5 530.9,326.1 531.4,328.5 532.0,315.8 532.5,298.6 533.0,287.7 533.5,292.2 534.1,307.6 534.6,324.5 535.1,329.9 535.7,319.1 536.2,302.1 536.7,289.8 537.2,290.5 537.8,304.3 538.3,321.1 538.8,329.9 539.4,323.8 539.9,306.4 540.4,291.2 540.9,288.9 541.5,300.2 542.0,318.1 542.5,328.6 543.1,325.4 543.6,309.0 544.1,291.9 544.6,287.0 545.2,296.9 545.7,314.5 546.2,326.5 546.8,326.5 547.3,312.2 547.8,294.5 548.3,286.2 548.9,293.6 549.4,310.2 549.9,325.0 550.5,326.8 551.0,314.6 551.5,297.4 552.0,286.4 552.6,289.8 553.1,306.2 553.6,322.2 554.2,326.5 554.7,317.3 555.2,299.2 555.8,286.7 556.3,286.9 556.8,300.2 557.3,317.2 557.9,325.8 558.4,318.3 558.9,301.3 559.5,286.5 560.0,283.8 560.5,297.0 561.0,313.7 561.6,324.0 562.1,319.0 562.6,303.3 563.2,287.6 563.7,282.3 564.2,291.8 564.7,309.6 565.3,322.0 565.8,320.9 566.3,307.3 566.9,288.9 567.4,281.0 567.9,288.5 568.4,305.5 569.0,319.5 569.5,321.6 570.0,309.4 570.6,291.5 571.1,280.6 571.6,286.0 572.1,301.0 572.7,317.5 573.2,322.5 573.7,311.3 574.3,294.0 574.8,282.1 575.3,283.3 575.8,297.0 576.4,313.7 576.9,321.7 577.4,314.0 578.0,296.6 578.5,282.7 579.0,280.8 579.5,293.4 580.1,311.1 580.6,321.1 581.1,316.1 581.7,299.9 582.2,284.2 582.7,279.7 583.3,289.2 583.8,306.9 584.3,319.0 584.8,316.9 585.4,302.5 585.9,284.7 586.4,278.6 587.0,285.8 587.5,303.1 588.0,316.5 588.5,317.5 589.1,306.4 589.6,288.7 590.1,277.9 590.7,282.4 591.2,298.5 591.7,314.6 592.2,318.6 592.8,307.9 593.3,290.5 593.8,277.8 594.4,281.0 594.9,294.6 595.4,311.9 595.9,318.2 596.5,310.6 597.0,293.7 597.5,278.9 598.1,278.2 598.6,291.0 599.1,308.8 599.6,317.8 600.2,312.2 600.7,295.6 601.2,280.2 601.8,275.7 602.3,286.5 602.8,304.2 603.4,315.8 603.9,313.3 604.4,299.0 604.9,282.2 605.5,275.1 606.0,282.9 606.5,300.4 607.1,313.7 607.6,314.9 608.1,301.6 608.6,284.5 609.2,274.4 609.7,279.4 610.2,296.0 610.8,310.6 611.3,314.8 611.8,303.5 612.3,286.0 612.9,274.8 613.4,277.1 613.9,291.5 614.5,308.3 615.0,315.0 615.5,306.9 616.0,290.2 616.6,275.6 617.1,275.6 617.6,287.6 618.2,305.2 618.7,314.6 619.2,308.9 619.7,292.2 620.3,277.2 620.8,273.8 621.3,284.3 621.9,302.2 622.4,313.4 622.9,309.4 623.4,295.2 624.0,277.7 624.5,271.7 625.0,279.4 625.6,296.5 626.1,310.2 626.6,310.2 627.1,296.1 627.7,278.9 628.2,269.5 628.7,275.3 629.3,290.9 629.8,306.2 630.3,309.0 630.9,297.9 631.4,279.3 631.9,268.1 632.4,269.2 633.0,282.1 633.5,298.6 634.0,305.7 634.6,297.3 635.1,280.7 635.6,266.8 636.1,265.6 636.7,279.6 637.2,298.5 637.7,308.0 638.3,302.2 638.8,285.3 639.3,270.9 639.8,268.1 640.4,279.1 640.9,297.1 641.4,309.6 642.0,307.8 642.5,293.1 643.0,276.3 643.5,270.5 644.1,277.5 644.6,294.8 645.1,308.0 645.7,307.3 646.2,293.9 646.7,277.6 647.2,267.9 647.8,274.7 648.3,293.2 648.8,309.1 649.4,311.1 649.9,297.8 650.4,272.0 650.9,255.1 651.5,251.1 652.0,258.9 652.5,268.4 653.1,267.3 653.6,251.9 654.1,228.8 654.7,220.5 655.2,229.8 655.7,252.6 656.2,279.9 656.8,298.2 657.3,301.7 657.8,295.4 658.4,279.0 658.9,273.0 659.4,281.9 659.9,299.7 660.5,309.4 661.0,305.3 661.5,291.3 662.1,274.2 662.6,266.9 663.1,276.4 663.6,294.2 664.2,307.8 664.7,307.7 665.2,293.9 665.8,276.6 666.3,267.5 666.8,274.1 667.3,290.9 667.9,306.4 668.4,308.6 668.9,297.2 669.5,279.3 670.0,267.6 670.5,271.2 671.0,286.6 671.6,303.1 672.1,308.8 672.6,299.7 673.2,282.2 673.7,268.4 674.2,269.4 674.8,282.2 675.3,299.6 675.8,308.4 676.3,301.7 676.9,284.8 677.4,269.3 677.9,266.9 678.5,277.8 679.0,295.9 679.5,307.6 680.0,303.3 680.6,287.9 681.1,270.7 681.6,264.2 682.2,273.4 682.7,291.5 683.2,304.2 683.7,302.1 684.3,288.2 684.8,270.9 685.3,262.0 685.9,267.6 686.4,284.5 686.9,299.8 687.4,301.9 688.0,289.5 688.5,272.1 689.0,261.4 689.6,264.5 690.1,280.3 690.6,296.0 691.1,300.9 691.7,290.1 692.2,273.5 692.7,260.3 693.3,260.6 693.8,273.9 694.3,290.2 694.8,298.4 695.4,291.4 695.9,274.4 696.4,258.8 697.0,255.1 697.5,266.4 698.0,283.8 698.6,293.4 699.1,288.3 699.6,271.5 700.1,254.9 700.7,249.1 701.2,258.8 701.7,275.6 702.3,286.5 702.8,286.2 703.3,271.2 703.8,253.5 704.4,245.7 704.9,253.0 705.4,269.7 706.0,284.4 706.5,286.5 707.0,275.3 707.5,257.4 708.1,247.6 708.6,252.2 709.1,268.1 709.7,284.5 710.2,289.8 710.7,281.1 711.2,263.6 711.8,251.3 712.3,253.3 712.8,268.3 713.4,286.9 713.9,295.7 714.4,288.9 714.9,273.4 715.5,258.8 716.0,257.7 716.5,270.6 717.1,289.3 717.6,299.9 718.1,295.4 718.6,279.4 719.2,263.5 719.7,259.6 720.2,270.2 720.8,288.4 721.3,300.9 721.8,300.0 722.4,285.6 722.9,268.2 723.4,261.6 723.9,270.1 724.5,287.3 725.0,302.2 725.5,304.0 726.1,290.6 726.6,273.4 727.1,264.3 727.6,268.2 728.2,283.8 728.7,300.6 729.2,305.5 729.8,295.4 730.3,277.6 730.8,265.0 731.3,266.5 731.9,281.0 732.4,298.1 732.9,305.5 733.5,298.3 734.0,282.4 734.5,267.7 735.0,266.0 735.6,279.0 736.1,296.1 736.6,306.5 737.2,302.2 737.7,285.1 738.2,269.3 738.7,265.3 739.3,275.4 739.8,292.9 740.3,305.5 740.9,305.1 741.4,290.0 741.9,272.7 742.4,265.8 743.0,273.1 743.5,289.7 744.0,304.6 744.6,306.3 745.1,292.2 745.6,275.4 746.1,266.3 746.7,270.6 747.2,286.5 747.7,302.8 748.3,306.4 748.8,296.2 749.3,278.9 749.9,266.2 750.4,267.8 750.9,283.0 751.4,299.6 752.0,306.6 752.5,297.4 753.0,281.4 753.6,266.7 754.1,266.1 754.6,279.2 755.1,296.4 755.7,306.0 756.2,300.7 756.7,284.9 757.3,269.8 757.8,265.9 758.3,276.2 758.8,293.7 759.4,305.4 759.9,303.7 760.4,288.8 761.0,271.7 761.5,265.5 762.0,274.6 762.5,292.0 763.1,306.2 763.6,305.7 764.1,293.6 764.7,275.5 765.2,266.2 765.7,271.2 766.2,287.8 766.8,304.1 767.3,308.2 767.8,297.4 768.4,279.7 768.9,268.3 769.4,270.6 769.9,284.9 770.5,303.1 771.0,309.3 771.5,301.5 772.1,283.9 772.6,269.7 773.1,269.5 773.7,282.4 774.2,301.0 774.7,309.5 775.2,304.5 775.8,287.9 776.3,272.5 776.8,270.2 777.4,280.8 777.9,297.8 778.4,309.0 778.9,306.9 779.5,292.1 780.0,276.2 780.5,268.7 781.1,276.7 781.6,294.9 782.1,309.1 782.6,310.2 783.2,296.1 783.7,277.6 784.2,269.2 784.8,274.9 785.3,291.8 785.8,308.1 786.3,310.7 786.9,300.6 787.4,282.8 787.9,271.0 788.5,273.5 789.0,288.9 789.5,305.7 790.0,312.6 790.6,304.5 791.1,286.6 791.6,273.2 792.2,273.4 792.7,287.0 793.2,304.1 793.8,313.7 794.3,307.9 794.8,291.5 795.3,275.4 795.9,272.0 796.4,282.6 796.9,301.7 797.5,313.3 798.0,309.6 798.5,294.8 799.0,278.4 799.6,271.5 800.1,281.0 800.6,299.1 801.2,312.9 801.7,312.3 802.2,298.7 802.7,282.2 803.3,273.4 803.8,278.8 804.3,295.3 804.9,311.2 805.4,313.9 805.9,302.5 806.4,286.0 807.0,274.4 807.5,277.2 808.0,292.9 808.6,310.4 809.1,315.8 809.6,306.3 810.1,288.5 810.7,276.7 811.2,275.2 811.7,290.1 812.3,306.9 812.8,315.2 813.3,309.1 813.8,292.8 814.4,278.3 814.9,274.8 815.4,286.7 816.0,305.4 816.5,314.3 817.0,311.3 817.6,295.5 818.1,280.0 818.6,273.3 819.1,282.0 819.7,299.3 820.2,313.1 820.7,313.4 821.3,299.2 821.8,282.4 822.3,272.8 822.8,276.9 823.4,292.1 823.9,307.3 824.4,310.4 825.0,298.3 825.5,281.3 826.0,271.6 826.5,275.2 827.1,292.1 827.6,309.0 828.1,314.5 828.7,306.5 829.2,289.4 829.7,277.0 830.2,277.8 830.8,291.6 831.3,310.5 831.8,319.4 832.4,313.9 832.9,297.7 833.4,283.2 833.9,279.2 834.5,290.0 835.0,308.4 835.5,320.1 836.1,316.0 836.6,300.8 837.1,284.2 837.6,279.0 838.2,288.6 838.7,306.0 839.2,320.9 839.8,321.5 840.3,308.6 840.8,290.2 841.4,280.1 841.9,279.6 842.4,289.9 842.9,297.6 843.5,292.8 844.0,274.9 844.5,250.4 845.1,233.5 845.6,230.9 846.1,251.9 846.6,276.4 847.2,292.3 847.7,292.1 848.2,285.7 848.8,281.8 849.3,293.3 849.8,307.5 850.3,320.4 850.9,325.8 851.4,319.9 851.9,302.5 852.5,287.6 853.0,285.3 853.5,298.0 854.0,315.3 854.6,325.4 855.1,321.4 855.6,305.3 856.2,289.7 856.7,283.9 857.2,294.9 857.7,312.4 858.3,326.2 858.8,325.2 859.3,309.9 859.9,293.6 860.4,285.5 860.9,292.8 861.4,310.4 862.0,325.0 862.5,327.0 863.0,314.9 863.6,296.8 864.1,286.5 864.6,291.3 865.1,307.5 865.7,323.2 866.2,328.1 866.7,317.7 867.3,299.3 867.8,287.3 868.3,289.3 868.9,303.8 869.4,321.3 869.9,329.0 870.4,321.8 871.0,304.6 871.5,290.0 872.0,287.8 872.6,300.6 873.1,318.2 873.6,328.9 874.1,323.3 874.7,307.6 875.2,291.1 875.7,286.6 876.3,296.3 876.8,314.4 877.3,326.5 877.8,323.9 878.4,310.8 878.9,293.0 879.4,284.8 880.0,292.7 880.5,309.6 881.0,323.6 881.5,325.7 882.1,312.8 882.6,295.5 883.1,285.4 883.7,289.9 884.2,305.6 884.7,321.3 885.2,325.4 885.8,315.9 886.3,296.9 886.8,284.2 887.4,285.9 887.9,300.6 888.4,317.2 888.9,323.8 889.5,315.8 890.0,299.3 890.5,283.6 891.1,280.3 891.6,294.3 892.1,310.4 892.7,319.6 893.2,314.4 893.7,297.0 894.2,281.5 894.8,276.4 895.3,285.5 895.8,303.2 896.4,315.2 896.9,312.6 897.4,298.1 897.9,280.3 898.5,274.1 899.0,281.5 899.5,299.6 900.1,313.4 900.6,314.9 901.1,303.6 901.6,285.7 902.2,276.7 902.7,282.1 903.2,298.0 903.8,315.4 904.3,320.4 904.8,309.3 905.3,292.7 905.9,280.9 906.4,284.3 906.9,300.6 907.5,318.2 908.0,325.4 908.5,318.3 909.0,302.2 909.6,288.8 910.1,288.5 910.6,302.2 911.2,319.2 911.7,330.0 912.2,326.1 912.8,310.1 913.3,294.2 913.8,290.6 914.3,302.1 914.9,320.5 915.4,332.7 915.9,331.6 916.5,317.1 917.0,299.6 917.5,293.5 918.0,301.7 918.6,318.8 919.1,333.3 919.6,334.7 920.2,321.1 920.7,304.2 921.2,295.6 921.7,300.8 922.3,317.4 922.8,333.8 923.3,337.4 923.9,326.8 924.4,310.2 924.9,297.9 925.4,300.4 926.0,315.6 926.5,333.1 927.0,339.4 927.6,330.9 928.1,313.7 928.6,300.5 929.1,299.5 929.7,313.4 930.2,330.7 930.7,339.3 931.3,334.5 931.8,318.3 932.3,302.1 932.8,299.2 933.4,310.4 933.9,327.8 934.4,339.1 935.0,337.9 935.5,322.6 936.0,305.8 936.6,299.5 937.1,307.9 937.6,325.2 938.1,338.4 938.7,339.1 939.2,325.5 939.7,307.8 940.3,299.1 940.8,304.6 941.3,320.3 941.8,336.1 942.4,340.1 942.9,328.8 943.4,311.6 944.0,299.7 944.5,302.2 945.0,318.2 945.5,334.8 946.1,340.5 946.6,332.5 947.1,315.1 947.7,302.1 948.2,302.0 948.7,315.4 949.2,331.7 949.8,341.6 950.3,336.1 950.8,319.7 951.4,304.3 951.9,300.9 952.4,312.4 952.9,329.4 953.5,341.5 954.0,338.2 954.5,323.4 955.1,306.9 955.6,301.9 956.1,310.5 956.6,327.8 957.2,341.5 957.7,342.4 958.2,327.8 958.8,310.8 959.3,302.3 959.8,308.5 960.4,325.1 960.9,340.2 961.4,343.9 961.9,332.6 962.5,314.5 963.0,303.3 963.5,306.8 964.1,322.4 964.6,339.2 965.1,344.8 965.6,335.2 966.2,318.8 966.7,304.6 967.2,304.9 967.8,319.3 968.3,336.3 968.8,345.8 969.3,340.0 969.9,323.2 970.4,307.7 970.9,304.9 971.5,316.6 972.0,334.0 972.5,346.1 973.0,341.8 973.6,327.0 974.1,310.5 974.6,304.7 975.2,314.2 975.7,331.9 976.2,345.1 976.7,344.2 977.3,330.1 977.8,312.8 978.3,305.1 978.9,311.7 979.4,328.5 979.9,343.0 980.4,346.6 981.0,333.7 981.5,316.5 982.0,306.0 982.6,309.1 983.1,324.3 983.6,341.0 984.1,346.3 984.7,337.3 985.2,319.5 985.7,306.3 986.3,307.5 986.8,321.0 987.3,338.7 987.9,347.1 988.4,341.0 988.9,324.0 989.4,308.6 990.0,307.1 990.5,318.3 991.0,335.9 991.6,346.8 992.1,344.2 992.6,327.9 993.1,311.1 993.7,306.3 994.2,315.6 994.7,334.2 995.3,346.1 995.8,345.6 996.3,331.1 996.8,314.9 997.4,306.0 997.9,313.0 998.4,329.5 999.0,345.1 999.5,347.3 1000.0,334.0 1000.5,317.5 1001.1,307.2 1001.6,311.0 1002.1,327.0 1002.7,342.4 1003.2,347.0 1003.7,338.4 1004.2,321.6 1004.8,307.6 1005.3,308.3 1005.8,322.6 1006.4,339.7 1006.9,348.5 1007.4,341.5 1007.9,325.0 1008.5,310.5 1009.0,307.4 1009.5,320.1 1010.1,336.6 1010.6,347.7 1011.1,344.1 1011.7,327.8 1012.2,311.0 1012.7,306.5 1013.2,317.1 1013.8,334.1 1014.3,346.1 1014.8,345.5 1015.4,331.5 1015.9,313.5 1016.4,305.8 1016.9,313.6 1017.5,330.3 1018.0,344.8 1018.5,346.0 1019.1,333.4 1019.6,315.1 1020.1,304.6 1020.6,309.8 1021.2,324.9 1021.7,340.3 1022.2,345.0 1022.8,333.9 1023.3,315.9 1023.8,303.2 1024.3,303.8 1024.9,319.2 1025.4,337.3 1025.9,343.9 1026.5,337.3 1027.0,320.6 1027.5,306.8 1028.0,305.6 1028.6,318.2 1029.1,335.7 1029.6,345.7 1030.2,342.5 1030.7,325.8 1031.2,310.8 1031.8,306.8"/>
<g font-family="'DejaVu Sans','Liberation Sans',sans-serif" font-size="10.4px" letter-spacing="0.45px" fill="#262626">
<text x="79.20" y="362.9" text-anchor="middle">0</text>
<text x="184.98" y="362.9" text-anchor="middle">200</text>
<text x="290.76" y="362.9" text-anchor="middle">400</text>
<text x="396.53" y="362.9" text-anchor="middle">600</text>
<text x="502.31" y="362.9" text-anchor="middle">800</text>
<text x="608.09" y="362.9" text-anchor="middle">1000</text>
<text x="713.87" y="362.9" text-anchor="middle">1200</text>
<text x="819.64" y="362.9" text-anchor="middle">1400</text>
<text x="925.42" y="362.9" text-anchor="middle">1600</text>
<text x="1031.20" y="362.9" text-anchor="middle">1800</text>
<text x="76.5" y="349.23" text-anchor="end">-2</text>
<text x="76.5" y="307.49" text-anchor="end">0</text>
<text x="76.5" y="265.74" text-anchor="end">2</text>
<text x="76.5" y="224.20" text-anchor="end">4</text>
<text x="79.77" y="216.7" fill="#8c8c8c">×</text>
<text x="89.00" y="216.7">10</text>
<text x="103.60" y="211.9" font-size="8.4px">-3</text>
</g>
<rect x="78.7" y="417.5" width="953.8" height="130.8" fill="#fff"/>
<g stroke="#262626" stroke-width="1" fill="none">
<rect x="79.5" y="418.5" width="952.0" height="129.0"/>
<path d="M185.50 547.5v-9.5M185.50 418.5v8.5"/>
<path d="M291.50 547.5v-9.5M291.50 418.5v8.5"/>
<path d="M397.50 547.5v-9.5M397.50 418.5v8.5"/>
<path d="M502.50 547.5v-9.5M502.50 418.5v8.5"/>
<path d="M608.50 547.5v-9.5M608.50 418.5v8.5"/>
<path d="M714.50 547.5v-9.5M714.50 418.5v8.5"/>
<path d="M820.50 547.5v-9.5M820.50 418.5v8.5"/>
<path d="M925.50 547.5v-9.5M925.50 418.5v8.5"/>
<path d="M79.5 504.50h9.5M1031.5 504.50h-9.5"/>
<path d="M79.5 461.50h9.5M1031.5 461.50h-9.5"/>
</g>
<polyline clip-path="url(#c2)" fill="none" stroke="#0000ff" stroke-width="1" shape-rendering="crispEdges" stroke-linejoin="round" points="80.3,504.0 80.8,504.0 81.3,504.0 81.9,504.0 82.4,504.0 82.9,504.0 83.5,504.0 84.0,504.0 84.5,504.0 85.0,504.0 85.6,504.0 86.1,504.0 86.6,504.0 87.2,504.0 87.7,504.0 88.2,504.0 88.7,504.0 89.3,504.1 89.8,504.1 90.3,504.1 90.9,504.1 91.4,504.1 91.9,504.1 92.4,504.1 93.0,504.1 93.5,504.1 94.0,504.1 94.6,504.1 95.1,504.1 95.6,504.1 96.1,504.1 96.7,504.1 97.2,504.1 97.7,504.1 98.3,504.1 98.8,504.1 99.3,504.1 99.8,504.1 100.4,504.1 100.9,504.1 101.4,504.1 102.0,504.1 102.5,504.1 103.0,504.1 103.5,504.1 104.1,504.1 104.6,504.1 105.1,504.1 105.7,504.1 106.2,504.1 106.7,504.2 107.3,504.2 107.8,504.2 108.3,504.2 108.8,504.2 109.4,504.2 109.9,504.2 110.4,504.2 111.0,504.2 111.5,504.2 112.0,504.2 112.5,504.2 113.1,504.2 113.6,504.2 114.1,504.2 114.7,504.2 115.2,504.2 115.7,504.2 116.2,504.1 116.8,504.1 117.3,504.1 117.8,504.1 118.4,504.1 118.9,504.1 119.4,504.1 119.9,504.1 120.5,504.1 121.0,504.1 121.5,504.1 122.1,504.1 122.6,504.0 123.1,504.0 123.6,504.0 124.2,504.0 124.7,504.0 125.2,504.0 125.8,504.0 126.3,503.9 126.8,503.9 127.3,503.9 127.9,503.9 128.4,503.9 128.9,503.8 129.5,503.8 130.0,503.8 130.5,503.8 131.1,503.8 131.6,503.7 132.1,503.7 132.6,503.7 133.2,503.7 133.7,503.6 134.2,503.6 134.8,503.6 135.3,503.5 135.8,503.5 136.3,503.5 136.9,503.5 137.4,503.4 137.9,503.4 138.5,503.4 139.0,503.3 139.5,503.3 140.0,503.3 140.6,503.2 141.1,503.2 141.6,503.2 142.2,503.1 142.7,503.1 143.2,503.1 143.7,503.0 144.3,503.0 144.8,502.9 145.3,502.9 145.9,502.9 146.4,502.8 146.9,502.8 147.4,502.8 148.0,502.7 148.5,502.7 149.0,502.7 149.6,502.6 150.1,502.6 150.6,502.6 151.1,502.5 151.7,502.5 152.2,502.5 152.7,502.4 153.3,502.4 153.8,502.4 154.3,502.4 154.9,502.3 155.4,502.3 155.9,502.3 156.4,502.3 157.0,502.3 157.5,502.2 158.0,502.2 158.6,502.2 159.1,502.2 159.6,502.2 160.1,502.2 160.7,502.2 161.2,502.1 161.7,502.1 162.3,502.1 162.8,502.1 163.3,502.1 163.8,502.1 164.4,502.1 164.9,502.2 165.4,502.2 166.0,502.2 166.5,502.2 167.0,502.2 167.5,502.2 168.1,502.3 168.6,502.3 169.1,502.3 169.7,502.4 170.2,502.4 170.7,502.4 171.2,502.5 171.8,502.5 172.3,502.6 172.8,502.6 173.4,502.7 173.9,502.7 174.4,502.8 174.9,502.9 175.5,502.9 176.0,503.0 176.5,503.1 177.1,503.2 177.6,503.3 178.1,503.4 178.7,503.5 179.2,503.6 179.7,503.7 180.2,503.8 180.8,503.9 181.3,504.0 181.8,504.1 182.4,504.2 182.9,504.4 183.4,504.5 183.9,504.6 184.5,504.8 185.0,504.9 185.5,505.0 186.1,505.2 186.6,505.4 187.1,505.5 187.6,505.7 188.2,505.8 188.7,506.0 189.2,506.2 189.8,506.4 190.3,506.5 190.8,506.7 191.3,506.9 191.9,507.1 192.4,507.3 192.9,507.5 193.5,507.7 194.0,507.9 194.5,508.1 195.0,508.4 195.6,508.6 196.1,508.8 196.6,509.0 197.2,509.3 197.7,509.5 198.2,509.7 198.8,510.0 199.3,510.2 199.8,510.4 200.3,510.7 200.9,510.9 201.4,511.2 201.9,511.4 202.5,511.7 203.0,512.0 203.5,512.2 204.0,512.5 204.6,512.7 205.1,513.0 205.6,513.3 206.2,513.5 206.7,513.8 207.2,514.1 207.7,514.4 208.3,514.6 208.8,514.9 209.3,515.2 209.9,515.5 210.4,515.7 210.9,516.0 211.4,516.3 212.0,516.6 212.5,516.8 213.0,475.6 213.6,483.8 214.1,501.6 214.6,517.6 215.1,520.1 215.7,508.2 216.2,489.9 216.7,478.4 217.3,483.4 217.8,500.1 218.3,516.7 218.8,522.2 219.4,512.8 219.9,495.5 220.4,482.1 221.0,482.8 221.5,498.3 222.0,515.9 222.5,524.7 223.1,517.4 223.6,500.0 224.1,484.0 224.7,481.9 225.2,493.5 225.7,511.5 226.3,522.5 226.8,519.4 227.3,502.5 227.8,485.3 228.4,480.0 228.9,490.8 229.4,508.6 230.0,521.9 230.5,520.7 231.0,505.2 231.5,488.2 232.1,479.8 232.6,486.3 233.1,504.1 233.7,518.8 234.2,520.3 234.7,507.4 235.2,489.6 235.8,478.0 236.3,481.0 236.8,497.9 237.4,513.1 237.9,517.5 238.4,507.1 238.9,487.2 239.5,473.8 240.0,475.7 240.5,489.6 241.1,506.3 241.6,513.9 242.1,505.6 242.6,488.2 243.2,473.0 243.7,470.8 244.2,484.6 244.8,502.8 245.3,513.7 245.8,509.2 246.3,493.6 246.9,477.5 247.4,473.0 247.9,483.4 248.5,501.9 249.0,516.5 249.5,515.6 250.1,500.6 250.6,484.8 251.1,477.5 251.6,485.7 252.2,503.4 252.7,519.2 253.2,522.2 253.8,510.2 254.3,492.6 254.8,481.9 255.3,487.8 255.9,505.0 256.4,521.6 256.9,526.8 257.5,516.7 258.0,499.4 258.5,486.5 259.0,488.7 259.6,503.3 260.1,521.2 260.6,529.3 261.2,521.5 261.7,504.5 262.2,489.4 262.7,488.6 263.3,501.6 263.8,520.7 264.3,530.5 264.9,526.5 265.4,510.4 265.9,493.3 266.4,489.0 267.0,499.3 267.5,516.4 268.0,530.2 268.6,528.6 269.1,513.1 269.6,495.4 270.1,488.3 270.7,496.5 271.2,513.7 271.7,528.3 272.3,530.1 272.8,516.6 273.3,498.4 273.9,488.8 274.4,493.4 274.9,510.4 275.4,525.8 276.0,530.1 276.5,519.2 277.0,501.3 277.6,488.6 278.1,491.4 278.6,506.3 279.1,522.8 279.7,530.8 280.2,521.3 280.7,504.3 281.3,488.7 281.8,488.0 282.3,500.6 282.8,518.5 283.4,529.0 283.9,522.3 284.4,504.9 285.0,489.1 285.5,485.1 286.0,495.8 286.5,514.0 287.1,525.2 287.6,523.2 288.1,507.6 288.7,490.3 289.2,483.2 289.7,491.8 290.2,508.4 290.8,523.0 291.3,523.3 291.8,510.1 292.4,492.5 292.9,482.6 293.4,488.1 294.0,504.7 294.5,520.8 295.0,524.6 295.5,513.9 296.1,495.5 296.6,482.1 297.1,485.4 297.7,501.3 298.2,517.9 298.7,524.0 299.2,516.6 299.8,498.6 300.3,484.3 300.8,484.3 301.4,496.9 301.9,514.9 302.4,524.5 302.9,519.1 303.5,501.7 304.0,486.1 304.5,482.4 305.1,494.1 305.6,512.4 306.1,523.3 306.6,521.1 307.2,505.4 307.7,488.2 308.2,481.9 308.8,490.7 309.3,508.0 309.8,522.5 310.3,522.9 310.9,509.1 311.4,490.5 311.9,481.3 312.5,487.4 313.0,504.8 313.5,521.2 314.0,523.7 314.6,511.9 315.1,494.2 315.6,482.2 316.2,484.9 316.7,500.5 317.2,517.6 317.8,524.6 318.3,515.0 318.8,498.1 319.3,483.4 319.9,483.2 320.4,496.9 320.9,514.3 321.5,523.6 322.0,518.8 322.5,502.3 323.0,485.4 323.6,482.7 324.1,494.1 324.6,511.8 325.2,524.6 325.7,522.0 326.2,505.2 326.7,488.0 327.3,481.9 327.8,491.0 328.3,509.3 328.9,523.6 329.4,523.1 329.9,509.3 330.4,491.9 331.0,481.9 331.5,488.3 332.0,505.3 332.6,521.6 333.1,524.7 333.6,513.0 334.1,494.9 334.7,482.8 335.2,486.5 335.7,501.9 336.3,518.9 336.8,524.1 337.3,516.3 337.8,497.7 338.4,484.2 338.9,484.5 339.4,499.3 340.0,516.9 340.5,525.1 341.0,518.9 341.6,501.8 342.1,486.4 342.6,483.0 343.1,495.3 343.7,514.7 344.2,525.7 344.7,522.7 345.3,507.5 345.8,489.5 346.3,482.5 346.8,492.4 347.4,511.1 347.9,524.8 348.4,523.5 349.0,509.5 349.5,491.9 350.0,483.3 350.5,490.0 351.1,506.9 351.6,522.5 352.1,525.4 352.7,513.9 353.2,495.2 353.7,484.4 354.2,487.5 354.8,504.4 355.3,521.1 355.8,526.6 356.4,517.7 356.9,498.4 357.4,484.7 357.9,486.3 358.5,500.4 359.0,518.2 359.5,528.2 360.1,520.4 360.6,503.0 361.1,487.6 361.6,485.7 362.2,497.8 362.7,515.9 363.2,526.4 363.8,522.8 364.3,506.9 364.8,489.5 365.3,484.7 365.9,494.6 366.4,513.2 366.9,525.1 367.5,524.1 368.0,509.7 368.5,492.0 369.1,483.9 369.6,490.9 370.1,508.4 370.6,523.5 371.2,525.4 371.7,512.1 372.2,494.0 372.8,483.3 373.3,487.4 373.8,503.5 374.3,518.9 374.9,523.4 375.4,512.3 375.9,492.4 376.5,478.8 377.0,479.9 377.5,494.6 378.0,513.5 378.6,522.4 379.1,515.8 379.6,498.8 380.2,484.9 380.7,482.8 381.2,495.9 381.7,513.8 382.3,525.5 382.8,521.4 383.3,505.2 383.9,489.9 384.4,485.9 384.9,496.3 385.4,514.8 386.0,528.7 386.5,526.8 387.0,510.8 387.6,493.8 388.1,486.1 388.6,493.9 389.2,510.9 389.7,526.5 390.2,528.5 390.7,514.8 391.3,497.4 391.8,486.1 392.3,491.4 392.9,509.6 393.4,526.6 393.9,530.1 394.4,518.2 395.0,493.5 395.5,473.8 396.0,467.6 396.6,474.6 397.1,485.2 397.6,486.9 398.1,473.0 398.7,449.3 399.2,440.0 399.7,446.6 400.3,469.5 400.8,497.8 401.3,518.8 401.8,524.3 402.4,517.9 402.9,500.3 403.4,493.1 404.0,500.2 404.5,518.5 405.0,531.4 405.5,530.3 406.1,514.5 406.6,497.6 407.1,489.8 407.7,496.5 408.2,514.0 408.7,529.3 409.2,531.6 409.8,518.3 410.3,500.2 410.8,489.4 411.4,493.4 411.9,510.8 412.4,527.9 412.9,532.8 413.5,521.8 414.0,503.6 414.5,491.4 415.1,492.8 415.6,508.4 416.1,525.0 416.7,532.3 417.2,524.4 417.7,507.4 418.2,492.3 418.8,491.2 419.3,504.4 419.8,522.4 420.4,532.9 420.9,528.0 421.4,510.3 421.9,494.1 422.5,489.6 423.0,499.9 423.5,519.2 424.1,531.5 424.6,528.9 425.1,513.5 425.6,496.3 426.2,488.4 426.7,496.7 427.2,515.0 427.8,529.4 428.3,529.3 428.8,515.8 429.3,498.6 429.9,487.2 430.4,492.1 430.9,508.3 431.5,525.0 432.0,529.0 432.5,518.2 433.0,498.2 433.6,486.3 434.1,487.8 434.6,503.6 435.2,520.7 435.7,528.3 436.2,519.4 436.8,500.7 437.3,486.9 437.8,484.9 438.3,498.2 438.9,516.5 439.4,525.7 439.9,519.7 440.5,502.2 441.0,485.7 441.5,481.4 442.0,491.8 442.6,509.5 443.1,521.1 443.6,517.3 444.2,500.4 444.7,483.2 445.2,474.9 445.7,482.5 446.3,499.6 446.8,512.4 447.3,512.6 447.9,497.5 448.4,479.5 448.9,468.8 449.4,474.3 450.0,491.3 450.5,506.7 451.0,510.6 451.6,499.3 452.1,481.5 452.6,470.1 453.1,472.8 453.7,488.7 454.2,506.1 454.7,514.3 455.3,506.1 455.8,489.7 456.3,475.2 456.8,475.9 457.4,490.7 457.9,508.9 458.4,518.5 459.0,514.6 459.5,498.7 460.0,483.4 460.6,480.7 461.1,492.0 461.6,511.0 462.1,523.6 462.7,520.7 463.2,506.1 463.7,488.9 464.3,483.3 464.8,492.7 465.3,511.2 465.8,524.0 466.4,525.2 466.9,511.7 467.4,494.2 468.0,485.1 468.5,491.4 469.0,507.7 469.5,525.0 470.1,529.1 470.6,517.6 471.1,499.7 471.7,487.1 472.2,489.9 472.7,506.5 473.2,524.0 473.8,530.0 474.3,520.1 474.8,504.0 475.4,489.0 475.9,489.3 476.4,502.4 476.9,521.1 477.5,530.1 478.0,524.4 478.5,507.1 479.1,490.2 479.6,487.0 480.1,499.3 480.6,517.8 481.2,530.0 481.7,526.2 482.2,510.0 482.8,492.8 483.3,486.6 483.8,496.2 484.3,513.6 484.9,527.3 485.4,526.4 485.9,511.9 486.5,494.8 487.0,486.3 487.5,492.3 488.1,509.5 488.6,525.2 489.1,527.7 489.6,516.1 490.2,497.1 490.7,485.5 491.2,488.6 491.8,504.4 492.3,521.5 492.8,527.3 493.3,517.4 493.9,499.2 494.4,484.8 494.9,484.8 495.5,499.2 496.0,516.2 496.5,525.2 497.0,518.2 497.6,500.5 498.1,485.5 498.6,481.8 499.2,493.4 499.7,511.6 500.2,523.1 500.7,519.5 501.3,503.7 501.8,486.5 502.3,480.7 502.9,490.0 503.4,508.5 503.9,521.6 504.4,520.9 505.0,506.8 505.5,489.2 506.0,480.2 506.6,487.9 507.1,504.4 507.6,519.8 508.2,522.4 508.7,510.2 509.2,492.6 509.7,481.4 510.3,484.7 510.8,500.9 511.3,517.9 511.9,524.4 512.4,514.0 512.9,495.5 513.4,482.1 514.0,483.3 514.5,498.6 515.0,515.5 515.6,524.2 516.1,518.6 516.6,500.2 517.1,485.5 517.7,483.3 518.2,495.3 518.7,512.5 519.3,524.2 519.8,520.1 520.3,503.2 520.8,486.4 521.4,481.8 521.9,492.0 522.4,510.5 523.0,523.8 523.5,522.3 524.0,507.7 524.5,490.1 525.1,481.5 525.6,489.4 526.1,506.7 526.7,521.5 527.2,523.7 527.7,511.0 528.2,493.2 528.8,482.7 529.3,486.7 529.8,503.5 530.4,520.6 530.9,524.9 531.4,515.0 532.0,496.8 532.5,484.5 533.0,485.3 533.5,499.9 534.1,517.7 534.6,526.5 535.1,518.5 535.7,500.3 536.2,485.3 536.7,483.8 537.2,496.3 537.8,514.0 538.3,526.3 538.8,521.2 539.4,504.3 539.9,487.5 540.4,482.1 540.9,492.4 541.5,511.0 542.0,524.2 542.5,522.7 543.1,508.5 543.6,490.8 544.1,482.5 544.6,489.4 545.2,507.8 545.7,523.0 546.2,524.7 546.8,511.5 547.3,493.9 547.8,482.8 548.3,488.4 548.9,504.7 549.4,521.2 549.9,525.6 550.5,515.1 551.0,498.2 551.5,485.3 552.0,486.2 552.6,501.4 553.1,519.6 553.6,526.3 554.2,518.6 554.7,501.1 555.2,486.7 555.8,484.6 556.3,497.9 556.8,515.6 557.3,526.8 557.9,522.3 558.4,505.3 558.9,489.2 559.5,484.1 560.0,494.7 560.5,513.4 561.0,525.9 561.6,524.3 562.1,508.9 562.6,491.9 563.2,484.4 563.7,491.4 564.2,508.3 564.7,523.0 565.3,525.2 565.8,512.3 566.3,493.5 566.9,483.8 567.4,489.3 567.9,505.3 568.4,521.2 569.0,526.0 569.5,515.7 570.0,497.3 570.6,483.5 571.1,485.6 571.6,500.3 572.1,517.2 572.7,523.7 573.2,514.7 573.7,495.4 574.3,480.2 574.8,479.4 575.3,493.3 575.8,511.1 576.4,522.1 576.9,518.0 577.4,501.8 578.0,485.9 578.5,481.6 579.0,493.8 579.5,512.3 580.1,524.8 580.6,521.7 581.1,507.5 581.7,491.4 582.2,484.6 582.7,492.6 583.3,511.7 583.8,526.9 584.3,527.4 584.8,513.8 585.4,495.4 585.9,486.1 586.4,490.4 587.0,507.1 587.5,523.9 588.0,528.0 588.5,518.4 589.1,499.3 589.6,487.1 590.1,490.5 590.7,506.9 591.2,525.1 591.7,532.2 592.2,520.5 592.8,496.0 593.3,474.5 593.8,466.8 594.4,473.0 594.9,484.9 595.4,486.2 595.9,474.3 596.5,451.2 597.0,440.7 597.5,445.8 598.1,468.3 598.6,496.5 599.1,519.0 599.6,526.5 600.2,521.0 600.7,503.4 601.2,493.4 601.8,500.0 602.3,516.9 602.8,530.9 603.4,531.3 603.9,517.5 604.4,499.6 604.9,489.9 605.5,496.2 606.0,512.5 606.5,527.6 607.1,531.0 607.6,520.1 608.1,502.3 608.6,491.1 609.2,493.0 609.7,509.0 610.2,526.5 610.8,533.3 611.3,524.5 611.8,507.0 612.3,492.8 612.9,492.9 613.4,506.4 613.9,523.1 614.5,533.4 615.0,527.9 615.5,510.5 616.0,494.3 616.6,491.6 617.1,502.7 617.6,520.2 618.2,532.1 618.7,529.3 619.2,512.9 619.7,496.5 620.3,489.9 620.8,498.9 621.3,515.8 621.9,531.1 622.4,531.0 622.9,516.7 623.4,497.9 624.0,488.3 624.5,493.8 625.0,511.8 625.6,526.6 626.1,529.8 626.6,518.3 627.1,499.3 627.7,487.8 628.2,491.3 628.7,506.1 629.3,523.2 629.8,529.0 630.3,519.1 630.9,500.8 631.4,486.1 631.9,486.6 632.4,501.1 633.0,518.6 633.5,527.4 634.0,521.0 634.6,502.6 635.1,486.7 635.6,483.8 636.1,493.9 636.7,511.6 637.2,522.6 637.7,518.8 638.3,501.8 638.8,484.1 639.3,476.6 639.8,485.1 640.4,502.2 640.9,515.0 641.4,514.7 642.0,499.4 642.5,480.6 643.0,470.6 643.5,476.9 644.1,492.0 644.6,507.5 645.1,511.0 645.7,499.3 646.2,480.4 646.7,468.8 647.2,472.7 647.8,488.5 648.3,506.0 648.8,512.0 649.4,503.7 649.9,486.1 650.4,472.6 650.9,472.8 651.5,489.2 652.0,507.8 652.5,517.3 653.1,510.8 653.6,495.2 654.1,480.4 654.7,478.4 655.2,491.8 655.7,510.9 656.2,522.6 656.8,520.1 657.3,504.5 657.8,487.5 658.4,481.9 658.9,492.1 659.4,511.2 659.9,524.7 660.5,523.7 661.0,509.6 661.5,492.5 662.1,484.7 662.6,491.2 663.1,509.2 663.6,525.3 664.2,527.9 664.7,514.8 665.2,497.2 665.8,486.0 666.3,490.7 666.8,506.5 667.3,524.1 667.9,529.6 668.4,518.6 668.9,501.0 669.5,488.4 670.0,489.2 670.5,503.4 671.0,520.7 671.6,529.8 672.1,523.6 672.6,505.7 673.2,490.1 673.7,487.7 674.2,499.4 674.8,517.9 675.3,528.7 675.8,525.4 676.3,508.5 676.9,490.9 677.4,486.0 677.9,496.2 678.5,514.3 679.0,526.7 679.5,526.7 680.0,512.0 680.6,493.8 681.1,485.3 681.6,492.9 682.2,510.1 682.7,525.4 683.2,527.2 683.7,514.7 684.3,497.0 684.8,485.6 685.3,489.2 685.9,506.2 686.4,522.6 686.9,527.1 687.4,517.7 688.0,499.1 688.5,486.2 689.0,486.4 689.6,500.2 690.1,517.7 690.6,526.6 691.1,518.9 691.7,501.4 692.2,486.3 692.7,483.5 693.3,497.1 693.8,514.3 694.3,525.1 694.8,519.9 695.4,503.8 695.9,487.7 696.4,482.3 697.0,492.1 697.5,510.4 698.0,523.2 698.6,522.2 699.1,508.2 699.6,489.4 700.1,481.2 700.7,489.0 701.2,506.6 701.7,521.1 702.3,523.4 702.8,510.9 703.3,492.5 703.8,481.3 704.4,486.9 704.9,502.5 705.4,519.5 706.0,524.7 706.5,513.3 707.0,495.5 707.5,483.4 708.1,484.7 708.6,498.9 709.1,516.2 709.7,524.5 710.2,516.6 710.7,498.8 711.2,484.6 711.8,482.8 712.3,495.8 712.8,514.2 713.4,524.6 713.9,519.5 714.4,502.9 714.9,486.8 715.5,482.3 716.0,492.1 716.5,510.5 717.1,523.1 717.6,521.1 718.1,506.3 718.6,488.1 719.2,481.9 719.7,489.5 720.2,507.5 720.8,521.3 721.3,522.5 721.8,511.2 722.4,493.1 722.9,482.1 723.4,486.8 723.9,503.5 724.5,520.3 725.0,524.5 725.5,513.6 726.1,495.8 726.6,482.9 727.1,486.3 727.6,500.5 728.2,518.4 728.7,525.0 729.2,517.2 729.8,500.0 730.3,484.9 730.8,484.3 731.3,497.7 731.9,516.1 732.4,525.5 732.9,519.9 733.5,502.9 734.0,487.2 734.5,482.7 735.0,493.9 735.6,512.3 736.1,524.5 736.6,522.1 737.2,507.5 737.7,490.2 738.2,483.1 738.7,491.3 739.3,509.5 739.8,523.3 740.3,524.7 740.9,511.2 741.4,493.7 741.9,483.5 742.4,488.8 743.0,506.0 743.5,521.1 744.0,525.6 744.6,514.2 745.1,496.3 745.6,484.9 746.1,487.4 746.7,502.3 747.2,519.8 747.7,526.8 748.3,518.6 748.8,501.6 749.3,486.7 749.9,486.8 750.4,499.4 750.9,517.6 751.4,527.5 752.0,521.7 752.5,504.6 753.0,489.3 753.6,486.0 754.1,496.9 754.6,515.5 755.1,527.2 755.7,523.2 756.2,508.7 756.7,490.8 757.3,484.8 757.8,492.8 758.3,510.6 758.8,524.8 759.4,524.9 759.9,510.6 760.4,493.0 761.0,483.5 761.5,489.6 762.0,505.7 762.5,521.7 763.1,524.6 763.6,513.3 764.1,494.1 764.7,482.6 765.2,483.6 765.7,496.8 766.2,513.9 766.8,521.3 767.3,512.9 767.8,496.2 768.4,482.1 768.9,481.2 769.4,495.8 769.9,515.4 770.5,525.4 771.0,519.6 771.5,502.3 772.1,487.5 772.6,484.8 773.1,496.2 773.7,514.8 774.2,527.9 774.7,526.1 775.2,511.0 775.8,493.9 776.3,488.1 776.8,495.4 777.4,513.3 777.9,527.0 778.4,526.4 778.9,512.7 779.5,496.0 780.0,486.2 780.5,493.3 781.1,512.5 781.6,529.0 782.1,531.0 782.6,517.5 783.2,491.0 783.7,473.7 784.2,469.7 784.8,477.8 785.3,487.8 785.8,486.7 786.3,471.0 786.9,447.3 787.4,438.9 787.9,448.5 788.5,472.1 789.0,500.3 789.5,519.3 790.0,523.1 790.6,516.7 791.1,499.8 791.6,493.8 792.2,503.1 792.7,521.5 793.2,531.6 793.8,527.4 794.3,513.1 794.8,495.6 795.3,488.2 795.9,498.1 796.4,516.6 796.9,530.6 797.5,530.6 798.0,516.5 798.5,498.8 799.0,489.4 799.6,496.4 800.1,513.8 800.6,529.8 801.2,532.2 801.7,520.6 802.2,502.2 802.7,490.2 803.3,494.0 803.8,510.0 804.3,527.1 804.9,533.1 805.4,523.8 805.9,505.8 806.4,491.7 807.0,492.8 807.5,506.0 808.0,524.1 808.6,533.2 809.1,526.4 809.6,509.1 810.1,493.2 810.7,490.8 811.2,502.1 811.7,520.8 812.3,532.9 812.8,528.5 813.3,512.8 813.8,495.1 814.4,488.5 814.9,498.0 815.4,516.7 816.0,529.9 816.5,527.8 817.0,513.5 817.6,495.8 818.1,486.6 818.6,492.5 819.1,510.0 819.7,525.7 820.2,527.9 820.7,515.3 821.3,497.4 821.8,486.4 822.3,489.7 822.8,505.9 823.4,522.2 823.9,527.3 824.4,516.2 825.0,499.2 825.5,485.6 826.0,485.9 826.5,499.6 827.1,516.5 827.6,524.9 828.1,517.7 828.7,500.2 829.2,484.2 829.7,480.4 830.2,492.0 830.8,509.8 831.3,519.7 831.8,514.4 832.4,496.9 832.9,479.7 833.4,473.6 833.9,483.4 834.5,500.6 835.0,511.6 835.5,511.2 836.1,495.5 836.6,477.2 837.1,469.1 837.6,476.6 838.2,493.8 838.7,509.0 839.2,511.2 839.8,499.7 840.3,481.5 840.8,471.4 841.4,476.3 841.9,492.9 842.4,509.9 842.9,515.4 843.5,506.5 844.0,488.6 844.5,476.0 845.1,478.1 845.6,493.5 846.1,512.7 846.6,521.7 847.2,514.7 847.7,498.7 848.2,483.6 848.8,482.5 849.3,495.6 849.8,514.9 850.3,525.7 850.9,521.1 851.4,504.4 851.9,488.0 852.5,484.0 853.0,494.8 853.5,513.5 854.0,526.2 854.6,525.2 855.1,510.3 855.6,492.3 856.2,485.4 856.7,494.1 857.2,511.7 857.7,527.0 858.3,528.8 858.8,514.9 859.3,497.0 859.9,487.6 860.4,491.5 860.9,507.5 861.4,524.7 862.0,529.7 862.5,519.1 863.0,500.7 863.6,487.7 864.1,489.1 864.6,503.9 865.1,521.4 865.7,528.9 866.2,521.4 866.7,504.8 867.3,489.6 867.8,487.8 868.3,501.0 868.9,518.5 869.4,529.1 869.9,524.6 870.4,506.9 871.0,490.5 871.5,486.2 872.0,496.5 872.6,514.4 873.1,527.3 873.6,526.7 874.1,511.0 874.7,493.2 875.2,485.9 875.7,493.3 876.3,510.2 876.8,525.5 877.3,527.1 877.8,512.5 878.4,495.1 878.9,485.5 879.4,489.8 880.0,506.1 880.5,522.7 881.0,526.3 881.5,515.7 882.1,497.8 882.6,484.6 883.1,486.0 883.7,501.6 884.2,518.6 884.7,525.7 885.2,516.1 885.8,499.5 886.3,484.2 886.8,483.5 887.4,496.9 887.9,514.5 888.4,524.2 888.9,518.7 889.5,502.3 890.0,486.6 890.5,482.5 891.1,492.9 891.6,510.9 892.1,522.9 892.7,520.9 893.2,505.5 893.7,487.8 894.2,481.3 894.8,490.6 895.3,508.3 895.8,522.9 896.4,522.3 896.9,509.7 897.4,491.0 897.9,481.3 898.5,486.3 899.0,503.3 899.5,520.1 900.1,524.2 900.6,512.9 901.1,494.7 901.6,482.8 902.2,485.1 902.7,499.7 903.2,518.4 903.8,524.8 904.3,516.6 904.8,498.4 905.3,483.7 905.9,483.4 906.4,496.7 906.9,515.7 907.5,524.4 908.0,519.2 908.5,502.0 909.0,486.0 909.6,483.7 910.1,494.5 910.6,512.0 911.2,523.4 911.7,521.2 912.2,505.9 912.8,489.4 913.3,481.6 913.8,489.8 914.3,508.5 914.9,523.1 915.4,524.2 915.9,509.6 916.5,490.5 917.0,481.8 917.5,487.6 918.0,504.9 918.6,521.6 919.1,524.3 919.6,513.8 920.2,495.5 920.7,483.2 921.2,485.8 921.7,501.5 922.3,518.8 922.8,525.9 923.3,517.5 923.9,499.1 924.4,485.2 924.9,485.4 925.4,499.3 926.0,516.9 926.5,526.7 927.0,520.7 927.6,503.8 928.1,487.2 928.6,483.6 929.1,494.4 929.7,514.1 930.2,526.0 930.7,522.1 931.3,506.8 931.8,489.9 932.3,482.7 932.8,492.5 933.4,511.1 933.9,525.3 934.4,524.6 935.0,510.6 935.5,493.5 936.0,484.5 936.6,490.0 937.1,506.9 937.6,523.3 938.1,526.0 938.7,514.2 939.2,497.2 939.7,485.2 940.3,487.9 940.8,504.2 941.3,522.1 941.8,527.6 942.4,517.7 942.9,499.4 943.4,487.2 944.0,485.6 944.5,500.9 945.0,518.2 945.5,526.7 946.1,520.3 946.6,503.5 947.1,488.5 947.7,484.8 948.2,497.1 948.7,516.2 949.2,525.3 949.8,522.2 950.3,505.8 950.8,489.8 951.4,482.9 951.9,491.7 952.4,509.5 952.9,523.7 953.5,523.8 954.0,509.1 954.5,491.6 955.1,481.5 955.6,485.5 956.1,500.8 956.6,516.3 957.2,519.5 957.7,507.2 958.2,489.8 958.8,479.9 959.3,483.7 959.8,501.1 960.4,518.5 960.9,524.0 961.4,515.8 961.9,498.0 962.5,485.3 963.0,486.0 963.5,500.1 964.1,519.5 964.6,528.7 965.1,522.8 965.6,506.1 966.2,491.1 966.7,486.9 967.2,497.9 967.8,516.8 968.3,528.8 968.8,524.5 969.3,508.7 969.9,491.5 970.4,486.1 970.9,495.9 971.5,513.8 972.0,529.0 972.5,529.6 973.0,516.2 973.6,497.2 974.1,486.7 974.6,486.1 975.2,496.6 975.7,504.5 976.2,499.5 976.7,480.9 977.3,455.6 977.8,438.1 978.3,435.3 978.9,456.9 979.4,482.1 979.9,498.4 980.4,498.0 981.0,491.4 981.5,487.3 982.0,499.1 982.6,513.7 983.1,526.8 983.6,532.3 984.1,526.2 984.7,508.2 985.2,492.7 985.7,490.3 986.3,503.3 986.8,521.0 987.3,531.3 987.9,527.1 988.4,510.5 988.9,494.3 989.4,488.2 990.0,499.5 990.5,517.5 991.0,531.6 991.6,530.5 992.1,514.6 992.6,497.7 993.1,489.3 993.7,496.8 994.2,514.8 994.7,529.8 995.3,531.8 995.8,519.2 996.3,500.6 996.8,489.8 997.4,494.7 997.9,511.3 998.4,527.4 999.0,532.3 999.5,521.6 1000.0,502.6 1000.5,490.1 1001.1,492.0 1001.6,506.9 1002.1,524.8 1002.7,532.8 1003.2,525.2 1003.7,507.4 1004.2,492.3 1004.8,489.9 1005.3,503.0 1005.8,521.2 1006.4,532.1 1006.9,526.2 1007.4,509.9 1007.9,492.8 1008.5,488.1 1009.0,498.0 1009.5,516.6 1010.1,529.0 1010.6,526.2 1011.1,512.7 1011.7,494.2 1012.2,485.7 1012.7,493.7 1013.2,511.0 1013.8,525.4 1014.3,527.5 1014.8,514.1 1015.4,496.2 1015.9,485.7 1016.4,490.2 1016.9,506.3 1017.5,522.3 1018.0,526.5 1018.5,516.7 1019.1,496.9 1019.6,483.8 1020.1,485.4 1020.6,500.4 1021.2,517.5 1021.7,524.2 1022.2,515.8 1022.8,498.6 1023.3,482.4 1023.8,478.9 1024.3,493.1 1024.9,509.5 1025.4,518.8 1025.9,513.2 1026.5,495.0 1027.0,478.8 1027.5,473.3 1028.0,482.4 1028.6,500.4 1029.1,512.5 1029.6,509.6 1030.2,494.3 1030.7,475.8 1031.2,469.3 1031.8,476.7"/>
<g font-family="'DejaVu Sans','Liberation Sans',sans-serif" font-size="10.4px" letter-spacing="0.45px" fill="#262626">
<text x="79.20" y="560.9" text-anchor="middle">0</text>
<text x="184.98" y="560.9" text-anchor="middle">200</text>
<text x="290.76" y="560.9" text-anchor="middle">400</text>
<text x="396.53" y="560.9" text-anchor="middle">600</text>
<text x="502.31" y="560.9" text-anchor="middle">800</text>
<text x="608.09" y="560.9" text-anchor="middle">1000</text>
<text x="713.87" y="560.9" text-anchor="middle">1200</text>
<text x="819.64" y="560.9" text-anchor="middle">1400</text>
<text x="925.42" y="560.9" text-anchor="middle">1600</text>
<text x="1031.20" y="560.9" text-anchor="middle">1800</text>
<text x="76.5" y="551.20" text-anchor="end">-2</text>
<text x="76.5" y="508.20" text-anchor="end">0</text>
<text x="76.5" y="465.20" text-anchor="end">2</text>
<text x="76.5" y="422.20" text-anchor="end">4</text>
<text x="79.77" y="414.7" fill="#8c8c8c">×</text>
<text x="89.00" y="414.7">10</text>
<text x="103.60" y="409.9" font-size="8.4px">-3</text>
</g>
<rect x="78.7" y="615.5" width="953.8" height="130.8" fill="#fff"/>
<g stroke="#262626" stroke-width="1" fill="none">
<rect x="79.5" y="616.5" width="952.0" height="129.0"/>
<path d="M185.50 745.5v-9.5M185.50 616.5v8.5"/>
<path d="M291.50 745.5v-9.5M291.50 616.5v8.5"/>
<path d="M397.50 745.5v-9.5M397.50 616.5v8.5"/>
<path d="M502.50 745.5v-9.5M502.50 616.5v8.5"/>
<path d="M608.50 745.5v-9.5M608.50 616.5v8.5"/>
<path d="M714.50 745.5v-9.5M714.50 616.5v8.5"/>
<path d="M820.50 745.5v-9.5M820.50 616.5v8.5"/>
<path d="M925.50 745.5v-9.5M925.50 616.5v8.5"/>
<path d="M79.5 712.50h9.5M1031.5 712.50h-9.5"/>
<path d="M79.5 680.50h9.5M1031.5 680.50h-9.5"/>
<path d="M79.5 648.50h9.5M1031.5 648.50h-9.5"/>
</g>
<polyline clip-path="url(#c3)" fill="none" stroke="#0000ff" stroke-width="1" shape-rendering="crispEdges" stroke-linejoin="round" points="80.3,712.8 80.8,712.8 81.3,712.8 81.9,712.8 82.4,712.8 82.9,712.8 83.5,712.8 84.0,712.8 84.5,712.8 85.0,712.8 85.6,712.8 86.1,712.8 86.6,712.8 87.2,712.8 87.7,712.8 88.2,712.8 88.7,712.8 89.3,712.8 89.8,712.8 90.3,712.8 90.9,712.8 91.4,712.8 91.9,712.8 92.4,712.9 93.0,712.9 93.5,712.9 94.0,712.9 94.6,712.9 95.1,712.9 95.6,712.9 96.1,712.9 96.7,712.9 97.2,712.9 97.7,712.9 98.3,712.9 98.8,712.9 99.3,712.9 99.8,712.9 100.4,712.9 100.9,712.9 101.4,712.9 102.0,712.9 102.5,712.9 103.0,713.0 103.5,713.0 104.1,713.0 104.6,713.0 105.1,713.0 105.7,713.0 106.2,713.0 106.7,713.0 107.3,713.0 107.8,713.0 108.3,713.0 108.8,713.0 109.4,713.0 109.9,713.0 110.4,713.0 111.0,713.0 111.5,713.0 112.0,713.0 112.5,713.0 113.1,713.0 113.6,713.0 114.1,713.0 114.7,713.0 115.2,713.0 115.7,713.0 116.2,713.0 116.8,713.0 117.3,713.0 117.8,712.9 118.4,712.9 118.9,712.9 119.4,712.9 119.9,712.9 120.5,712.9 121.0,712.9 121.5,712.9 122.1,712.8 122.6,712.8 123.1,712.8 123.6,712.8 124.2,712.8 124.7,712.7 125.2,712.7 125.8,712.7 126.3,712.7 126.8,712.6 127.3,712.6 127.9,712.6 128.4,712.6 128.9,712.5 129.5,712.5 130.0,712.5 130.5,712.4 131.1,712.4 131.6,712.4 132.1,712.3 132.6,712.3 133.2,712.2 133.7,712.2 134.2,712.2 134.8,712.1 135.3,712.1 135.8,712.0 136.3,712.0 136.9,711.9 137.4,711.9 137.9,711.8 138.5,711.8 139.0,711.8 139.5,711.7 140.0,711.7 140.6,711.6 141.1,711.5 141.6,711.5 142.2,711.4 142.7,711.4 143.2,711.3 143.7,711.3 144.3,711.2 144.8,711.2 145.3,711.1 145.9,711.1 146.4,711.0 146.9,711.0 147.4,710.9 148.0,710.9 148.5,710.8 149.0,710.8 149.6,710.7 150.1,710.7 150.6,710.6 151.1,710.6 151.7,710.5 152.2,710.5 152.7,710.4 153.3,710.4 153.8,710.3 154.3,710.3 154.9,710.3 155.4,710.2 155.9,710.2 156.4,710.2 157.0,710.1 157.5,710.1 158.0,710.1 158.6,710.1 159.1,710.0 159.6,710.0 160.1,710.0 160.7,710.0 161.2,710.0 161.7,710.0 162.3,710.0 162.8,710.0 163.3,710.0 163.8,710.0 164.4,710.0 164.9,710.0 165.4,710.0 166.0,710.0 166.5,710.0 167.0,710.1 167.5,710.1 168.1,710.1 168.6,710.2 169.1,710.2 169.7,710.3 170.2,710.3 170.7,710.4 171.2,710.5 171.8,710.5 172.3,710.6 172.8,710.7 173.4,710.8 173.9,710.8 174.4,710.9 174.9,711.0 175.5,711.2 176.0,711.3 176.5,711.4 177.1,711.5 177.6,711.6 178.1,711.8 178.7,711.9 179.2,712.1 179.7,712.2 180.2,712.4 180.8,712.5 181.3,712.7 181.8,712.9 182.4,713.1 182.9,713.2 183.4,713.4 183.9,713.6 184.5,713.8 185.0,714.1 185.5,714.3 186.1,714.5 186.6,714.7 187.1,715.0 187.6,715.2 188.2,715.5 188.7,715.7 189.2,716.0 189.8,716.2 190.3,716.5 190.8,716.8 191.3,717.1 191.9,717.4 192.4,717.7 192.9,718.0 193.5,718.3 194.0,718.6 194.5,718.9 195.0,719.2 195.6,719.6 196.1,719.9 196.6,720.2 197.2,720.6 197.7,720.9 198.2,721.3 198.8,721.6 199.3,722.0 199.8,722.3 200.3,722.7 200.9,723.1 201.4,723.5 201.9,723.8 202.5,724.2 203.0,724.6 203.5,725.0 204.0,725.4 204.6,725.8 205.1,726.2 205.6,726.6 206.2,727.0 206.7,727.4 207.2,727.8 207.7,728.2 208.3,728.6 208.8,729.0 209.3,729.4 209.9,729.8 210.4,730.3 210.9,730.7 211.4,731.1 212.0,731.5 212.5,731.9 213.0,674.2 213.6,691.3 214.1,713.5 214.6,727.0 215.1,723.7 215.7,709.7 216.2,694.8 216.7,689.6 217.3,698.0 217.8,710.8 218.3,719.0 218.8,719.1 219.4,712.2 219.9,704.5 220.4,700.3 221.0,702.8 221.5,711.1 222.0,716.5 222.5,718.2 223.1,714.2 223.6,709.2 224.1,705.1 224.7,706.2 225.2,708.6 225.7,711.9 226.3,713.0 226.8,712.6 227.3,708.5 227.8,705.9 228.4,706.3 228.9,709.4 229.4,710.9 230.0,711.7 230.5,710.8 231.0,708.0 231.5,707.8 232.1,707.2 232.6,707.0 233.1,708.7 233.7,708.7 234.2,707.7 234.7,706.4 235.2,706.0 235.8,704.5 236.3,703.1 236.8,704.8 237.4,703.0 237.9,702.0 238.4,701.1 238.9,697.9 239.5,697.4 240.0,698.3 240.5,697.1 241.1,696.1 241.6,695.9 242.1,694.5 242.6,694.5 243.2,693.8 243.7,693.1 244.2,694.7 244.8,694.8 245.3,695.6 245.8,695.7 246.3,696.9 246.9,697.4 247.4,697.8 247.9,697.9 248.5,698.6 249.0,701.2 249.5,701.9 250.1,701.7 250.6,704.3 251.1,704.9 251.6,705.8 252.2,706.2 252.7,707.7 253.2,709.5 253.8,710.6 254.3,711.2 254.8,711.1 255.3,713.2 255.9,714.3 256.4,714.3 256.9,715.1 257.5,715.6 258.0,716.7 258.5,716.7 259.0,717.6 259.6,717.2 260.1,717.7 260.6,718.5 261.2,718.3 261.7,719.1 262.2,718.7 262.7,719.8 263.3,720.0 263.8,721.4 264.3,720.6 264.9,721.8 265.4,722.4 265.9,721.5 266.4,722.1 267.0,721.7 267.5,720.2 268.0,721.8 268.6,721.7 269.1,720.8 269.6,720.7 270.1,721.6 270.7,722.0 271.2,721.3 271.7,721.1 272.3,721.8 272.8,721.0 273.3,720.8 273.9,721.7 274.4,721.2 274.9,721.7 275.4,720.4 276.0,720.4 276.5,720.2 277.0,720.4 277.6,720.0 278.1,721.2 278.6,720.8 279.1,719.6 279.7,720.9 280.2,719.0 280.7,719.9 281.3,718.2 281.8,718.7 282.3,717.6 282.8,717.6 283.4,718.4 283.9,716.3 284.4,715.4 285.0,716.1 285.5,715.9 286.0,715.3 286.5,715.4 287.1,713.9 287.6,714.5 288.1,714.1 288.7,714.1 289.2,713.7 289.7,713.9 290.2,712.2 290.8,712.9 291.3,712.3 291.8,712.6 292.4,712.8 292.9,712.3 293.4,712.4 294.0,712.2 294.5,712.5 295.0,712.5 295.5,713.0 296.1,712.5 296.6,710.6 297.1,711.9 297.7,712.6 298.2,711.6 298.7,710.7 299.2,712.5 299.8,711.9 300.3,711.8 300.8,712.7 301.4,711.3 301.9,711.6 302.4,711.7 302.9,712.1 303.5,711.2 304.0,711.5 304.5,711.5 305.1,712.2 305.6,712.5 306.1,710.9 306.6,711.8 307.2,711.5 307.7,711.3 308.2,711.5 308.8,711.6 309.3,711.0 309.8,711.7 310.3,711.8 310.9,711.5 311.4,710.6 311.9,710.7 312.5,711.0 313.0,711.6 313.5,712.3 314.0,710.9 314.6,710.8 315.1,711.6 315.6,711.2 316.2,710.7 316.7,710.5 317.2,710.5 317.8,711.5 318.3,710.4 318.8,712.1 319.3,711.0 319.9,710.9 320.4,710.8 320.9,710.0 321.5,710.2 322.0,711.9 322.5,712.4 323.0,710.8 323.6,712.0 324.1,711.9 324.6,711.3 325.2,712.7 325.7,713.0 326.2,711.3 326.7,711.4 327.3,712.0 327.8,712.0 328.3,712.5 328.9,712.8 329.4,711.8 329.9,712.2 330.4,713.0 331.0,711.9 331.5,712.2 332.0,712.0 332.6,712.6 333.1,712.3 333.6,712.5 334.1,712.7 334.7,712.3 335.2,713.1 335.7,712.5 336.3,712.1 336.8,710.8 337.3,712.8 337.8,711.8 338.4,712.3 338.9,712.6 339.4,713.7 340.0,713.3 340.5,712.3 341.0,712.8 341.6,712.8 342.1,713.0 342.6,712.2 343.1,712.9 343.7,714.5 344.2,713.8 344.7,714.5 345.3,715.7 345.8,714.3 346.3,712.9 346.8,713.7 347.4,714.5 347.9,714.1 348.4,712.6 349.0,713.2 349.5,713.9 350.0,714.2 350.5,714.1 351.1,713.5 351.6,713.5 352.1,713.7 352.7,714.7 353.2,714.0 353.7,714.8 354.2,714.0 354.8,715.4 355.3,714.8 355.8,714.5 356.4,715.4 356.9,713.8 357.4,713.8 357.9,715.3 358.5,714.6 359.0,714.5 359.5,716.5 360.1,715.1 360.6,715.3 361.1,715.6 361.6,716.5 362.2,716.0 362.7,715.6 363.2,714.6 363.8,715.2 364.3,715.8 364.8,714.9 365.3,715.9 365.9,715.9 366.4,716.6 366.9,714.5 367.5,714.6 368.0,714.8 368.5,714.8 369.1,714.9 369.6,714.5 370.1,714.6 370.6,714.5 371.2,714.4 371.7,713.3 372.2,713.4 372.8,713.3 373.3,713.0 373.8,712.6 374.3,710.9 374.9,710.2 375.4,709.0 375.9,706.3 376.5,705.5 377.0,705.0 377.5,704.6 378.0,706.2 378.6,707.6 379.1,708.9 379.6,709.9 380.2,711.7 380.7,711.5 381.2,712.1 381.7,711.6 382.3,713.2 382.8,713.5 383.3,713.8 383.9,715.9 384.4,717.1 384.9,717.4 385.4,718.1 386.0,719.5 386.5,718.9 387.0,717.2 387.6,718.3 388.1,718.3 388.6,718.3 389.2,717.4 389.7,718.5 390.2,719.0 390.7,717.8 391.3,719.1 391.8,717.9 392.3,718.7 392.9,720.9 393.4,721.3 393.9,719.6 394.4,718.2 395.0,709.6 395.5,700.9 396.0,690.0 396.6,677.8 397.1,666.4 397.6,656.3 398.1,646.3 398.7,637.4 399.2,645.5 399.7,655.4 400.3,667.6 400.8,681.1 401.3,697.4 401.8,714.8 402.4,732.0 402.9,732.1 403.4,730.1 404.0,726.1 404.5,725.5 405.0,723.5 405.5,722.5 406.1,720.8 406.6,723.0 407.1,724.4 407.7,723.8 408.2,723.5 408.7,723.0 409.2,722.9 409.8,721.7 410.3,722.4 410.8,722.9 411.4,722.6 411.9,723.9 412.4,724.0 412.9,723.3 413.5,722.3 414.0,722.8 414.5,724.5 415.1,724.6 415.6,725.3 416.1,723.5 416.7,722.7 417.2,722.4 417.7,723.4 418.2,723.2 418.8,723.9 419.3,724.2 419.8,724.0 420.4,724.2 420.9,724.1 421.4,722.5 421.9,723.1 422.5,723.2 423.0,722.5 423.5,723.9 424.1,723.2 424.6,722.2 425.1,722.0 425.6,722.7 426.2,722.0 426.7,722.1 427.2,722.7 427.8,722.1 428.3,720.5 428.8,720.5 429.3,722.0 429.9,719.7 430.4,719.3 430.9,718.3 431.5,718.8 432.0,718.5 432.5,718.6 433.0,716.2 433.6,717.4 434.1,716.3 434.6,716.9 435.2,715.9 435.7,716.5 436.2,715.7 436.8,714.7 437.3,716.1 437.8,714.5 438.3,714.1 438.9,714.2 439.4,713.0 439.9,712.3 440.5,711.6 441.0,711.4 441.5,710.9 442.0,709.6 442.6,708.7 443.1,707.5 443.6,705.5 444.2,703.7 444.7,704.0 445.2,701.8 445.7,700.3 446.3,699.0 446.8,696.6 447.3,696.2 447.9,694.0 448.4,694.0 448.9,692.2 449.4,691.8 450.0,691.8 450.5,690.8 451.0,691.2 451.6,691.2 452.1,691.9 452.6,692.9 453.1,692.7 453.7,693.3 454.2,693.6 454.7,695.8 455.3,696.6 455.8,698.5 456.3,698.1 456.8,700.0 457.4,701.8 457.9,702.0 458.4,702.3 459.0,705.2 459.5,706.5 460.0,707.3 460.6,708.8 461.1,708.8 461.6,710.4 462.1,711.3 462.7,711.0 463.2,712.2 463.7,712.2 464.3,713.5 464.8,714.5 465.3,715.5 465.8,713.8 466.4,715.4 466.9,715.7 467.4,716.0 468.0,716.1 468.5,716.5 469.0,715.8 469.5,718.1 470.1,719.2 470.6,719.0 471.1,719.3 471.7,718.4 472.2,718.4 472.7,719.8 473.2,720.2 473.8,719.4 474.3,718.1 474.8,720.8 475.4,719.3 475.9,720.0 476.4,718.9 476.9,720.1 477.5,719.7 478.0,720.2 478.5,720.0 479.1,718.5 479.6,718.8 480.1,719.7 480.6,719.8 481.2,720.2 481.7,719.2 482.2,718.9 482.8,719.2 483.3,719.3 483.8,719.6 484.3,718.6 484.9,718.1 485.4,717.1 485.9,716.7 486.5,718.0 487.0,718.4 487.5,717.6 488.1,717.6 488.6,717.7 489.1,717.3 489.6,717.8 490.2,716.6 490.7,716.5 491.2,715.9 491.8,715.7 492.3,715.7 492.8,715.6 493.3,714.8 493.9,714.7 494.4,713.7 494.9,713.2 495.5,713.4 496.0,712.0 496.5,712.2 497.0,711.6 497.6,711.1 498.1,712.0 498.6,710.5 499.2,709.9 499.7,709.9 500.2,710.0 500.7,709.9 501.3,710.2 501.8,709.9 502.3,710.0 502.9,709.7 503.4,710.4 503.9,709.4 504.4,709.3 505.0,709.5 505.5,709.8 506.0,709.2 506.6,710.6 507.1,709.5 507.6,709.4 508.2,709.6 508.7,709.6 509.2,710.2 509.7,710.1 510.3,709.5 510.8,709.7 511.3,710.1 511.9,711.3 512.4,710.1 512.9,709.5 513.4,709.8 514.0,710.4 514.5,711.7 515.0,710.2 515.6,710.7 516.1,712.7 516.6,711.2 517.1,712.2 517.7,712.5 518.2,712.0 518.7,710.7 519.3,711.6 519.8,711.4 520.3,710.3 520.8,710.3 521.4,711.5 521.9,711.7 522.4,712.4 523.0,712.3 523.5,711.7 524.0,711.9 524.5,712.2 525.1,711.4 525.6,712.2 526.1,711.8 526.7,711.3 527.2,711.6 527.7,711.6 528.2,712.1 528.8,712.4 529.3,711.8 529.8,712.5 530.4,713.3 530.9,712.2 531.4,712.6 532.0,712.6 532.5,713.7 533.0,712.7 533.5,712.5 534.1,712.9 534.6,714.2 535.1,713.3 535.7,712.4 536.2,712.6 536.7,713.1 537.2,712.6 537.8,711.9 538.3,714.3 538.8,713.3 539.4,712.8 539.9,712.9 540.4,712.1 540.9,712.1 541.5,712.4 542.0,712.4 542.5,712.2 543.1,713.4 543.6,713.6 544.1,713.0 544.6,712.2 545.2,713.3 545.7,713.2 546.2,713.0 546.8,712.4 547.3,713.6 547.8,713.0 548.3,714.4 548.9,714.0 549.4,713.7 549.9,713.2 550.5,713.2 551.0,715.1 551.5,715.0 552.0,714.0 552.6,714.5 553.1,715.3 553.6,713.8 554.2,714.0 554.7,714.3 555.2,714.8 555.8,713.8 556.3,714.4 556.8,713.8 557.3,715.2 557.9,715.5 558.4,714.9 558.9,715.4 559.5,714.7 560.0,714.8 560.5,715.7 561.0,715.1 561.6,715.3 562.1,714.7 562.6,715.7 563.2,715.7 563.7,714.4 564.2,713.4 564.7,713.4 565.3,714.5 565.8,714.3 566.3,713.2 566.9,714.2 567.4,715.1 567.9,714.4 568.4,713.8 569.0,714.3 569.5,714.6 570.0,714.0 570.6,712.4 571.1,712.9 571.6,712.5 572.1,711.7 572.7,710.2 573.2,708.7 573.7,706.3 574.3,705.7 574.8,706.1 575.3,706.9 575.8,706.2 576.4,707.6 576.9,709.4 577.4,710.2 578.0,710.8 578.5,710.8 579.0,712.8 579.5,713.1 580.1,713.0 580.6,711.8 581.1,713.6 581.7,715.4 582.2,715.6 582.7,715.2 583.3,717.3 583.8,718.4 584.3,717.8 584.8,717.7 585.4,717.4 585.9,718.1 586.4,716.4 587.0,716.0 587.5,716.9 588.0,717.1 588.5,719.0 589.1,717.8 589.6,718.2 590.1,719.9 590.7,721.2 591.2,722.2 591.7,722.2 592.2,718.0 592.8,709.4 593.3,700.5 593.8,690.8 594.4,679.5 594.9,668.9 595.4,655.1 595.9,645.5 596.5,636.8 597.0,644.8 597.5,655.4 598.1,668.8 598.6,681.9 599.1,698.1 599.6,715.8 600.2,733.2 600.7,734.5 601.2,731.2 601.8,728.6 602.3,726.2 602.8,724.0 603.4,722.6 603.9,722.2 604.4,723.3 604.9,724.4 605.5,725.7 606.0,724.5 606.5,722.3 607.1,721.5 607.6,721.8 608.1,722.6 608.6,724.1 609.2,723.4 609.7,724.3 610.2,724.5 610.8,724.4 611.3,724.1 611.8,724.5 612.3,724.7 612.9,725.7 613.4,725.5 613.9,723.7 614.5,725.0 615.0,725.3 615.5,724.4 616.0,724.1 616.6,725.4 617.1,725.0 617.6,724.1 618.2,724.2 618.7,724.1 619.2,722.8 619.7,723.9 620.3,723.5 620.8,723.8 621.3,722.5 621.9,724.5 622.4,723.9 622.9,723.1 623.4,721.9 624.0,721.5 624.5,720.7 625.0,722.1 625.6,720.3 626.1,720.2 626.6,720.2 627.1,719.2 627.7,719.8 628.2,720.3 628.7,718.8 629.3,718.8 629.8,718.1 630.3,717.0 630.9,716.7 631.4,715.5 631.9,716.0 632.4,716.5 633.0,715.7 633.5,715.5 634.0,715.6 634.6,714.1 635.1,713.9 635.6,713.9 636.1,711.1 636.7,710.3 637.2,709.4 637.7,708.8 638.3,707.3 638.8,706.4 639.3,704.2 639.8,703.0 640.4,701.6 640.9,700.0 641.4,699.8 642.0,698.0 642.5,696.7 643.0,695.3 643.5,694.9 644.1,691.8 644.6,691.5 645.1,692.2 645.7,692.2 646.2,691.1 646.7,691.2 647.2,692.2 647.8,692.0 648.3,692.6 648.8,692.5 649.4,693.9 649.9,694.5 650.4,694.9 650.9,695.0 651.5,698.3 652.0,699.2 652.5,700.0 653.1,700.2 653.6,702.8 654.1,704.1 654.7,705.2 655.2,707.1 655.7,708.4 656.2,708.8 656.8,710.6 657.3,711.3 657.8,711.4 658.4,711.8 658.9,712.7 659.4,714.1 659.9,713.7 660.5,713.1 661.0,713.9 661.5,715.1 662.1,716.1 662.6,715.5 663.1,716.4 663.6,717.3 664.2,717.5 664.7,716.5 665.2,717.6 665.8,717.5 666.3,718.5 666.8,717.7 667.3,718.7 667.9,718.8 668.4,717.3 668.9,718.5 669.5,719.6 670.0,719.1 670.5,718.4 671.0,717.8 671.6,719.2 672.1,720.4 672.6,719.7 673.2,719.3 673.7,719.1 674.2,718.2 674.8,718.6 675.3,718.2 675.8,719.3 676.3,718.1 676.9,717.2 677.4,718.0 677.9,718.4 678.5,718.1 679.0,716.7 679.5,718.2 680.0,718.0 680.6,717.5 681.1,717.2 681.6,717.9 682.2,717.3 682.7,717.2 683.2,716.8 683.7,716.9 684.3,717.6 684.8,716.9 685.3,716.1 685.9,717.0 686.4,716.5 686.9,715.5 687.4,716.4 688.0,715.7 688.5,716.2 689.0,714.8 689.6,713.6 690.1,713.5 690.6,714.5 691.1,713.6 691.7,713.5 692.2,713.6 692.7,712.7 693.3,714.4 693.8,712.9 694.3,712.8 694.8,711.6 695.4,711.9 695.9,712.5 696.4,711.9 697.0,711.5 697.5,712.0 698.0,711.6 698.6,712.0 699.1,712.9 699.6,711.0 700.1,710.9 700.7,711.5 701.2,711.6 701.7,710.7 702.3,711.3 702.8,711.5 703.3,711.2 703.8,710.4 704.4,712.2 704.9,710.9 705.4,711.6 706.0,711.9 706.5,710.2 707.0,710.9 707.5,712.1 708.1,711.7 708.6,710.8 709.1,710.5 709.7,711.4 710.2,710.9 710.7,710.5 711.2,711.4 711.8,711.1 712.3,711.4 712.8,711.9 713.4,711.9 713.9,711.4 714.4,711.4 714.9,711.8 715.5,711.8 716.0,710.9 716.5,711.4 717.1,711.1 717.6,710.7 718.1,711.0 718.6,709.9 719.2,711.8 719.7,711.2 720.2,711.8 720.8,710.7 721.3,710.6 721.8,713.1 722.4,712.7 722.9,711.3 723.4,711.3 723.9,711.7 724.5,712.3 725.0,712.0 725.5,711.6 726.1,711.9 726.6,711.4 727.1,713.6 727.6,712.3 728.2,713.1 728.7,712.1 729.2,712.7 729.8,713.1 730.3,712.3 730.8,713.0 731.3,713.3 731.9,713.9 732.4,713.2 732.9,712.8 733.5,712.4 734.0,713.0 734.5,712.2 735.0,712.7 735.6,713.0 736.1,712.8 736.6,712.6 737.2,713.7 737.7,713.7 738.2,713.5 738.7,713.3 739.3,714.1 739.8,713.2 740.3,714.1 740.9,713.8 741.4,714.4 741.9,713.7 742.4,713.6 743.0,714.3 743.5,713.0 744.0,713.9 744.6,713.3 745.1,713.5 745.6,714.6 746.1,714.6 746.7,714.2 747.2,714.7 747.7,715.1 748.3,715.4 748.8,716.2 749.3,715.2 749.9,716.4 750.4,715.2 750.9,715.9 751.4,716.3 752.0,715.9 752.5,715.4 753.0,716.3 753.6,716.7 754.1,716.5 754.6,717.3 755.1,716.9 755.7,715.1 756.2,716.4 756.7,715.2 757.3,715.8 757.8,714.8 758.3,715.1 758.8,715.3 759.4,714.9 759.9,713.9 760.4,714.3 761.0,713.9 761.5,714.1 762.0,713.0 762.5,713.3 763.1,712.8 763.6,712.9 764.1,711.2 764.7,711.7 765.2,708.8 765.7,705.6 766.2,705.8 766.8,707.0 767.3,707.1 767.8,708.2 768.4,708.2 768.9,707.7 769.4,709.7 769.9,712.2 770.5,712.7 771.0,712.5 771.5,712.0 772.1,713.9 772.6,715.1 773.1,715.1 773.7,715.8 774.2,717.4 774.7,718.8 775.2,719.5 775.8,719.7 776.3,721.0 776.8,719.0 777.4,719.4 777.9,718.7 778.4,717.1 778.9,717.0 779.5,718.6 780.0,717.7 780.5,719.4 781.1,722.7 781.6,723.5 782.1,721.9 782.6,719.6 783.2,708.5 783.7,701.6 784.2,691.5 784.8,679.7 785.3,667.9 785.8,656.2 786.3,646.0 786.9,637.7 787.4,645.3 787.9,656.8 788.5,668.1 789.0,682.1 789.5,697.8 790.0,715.4 790.6,733.5 791.1,733.1 791.6,730.2 792.2,727.3 792.7,726.9 793.2,723.0 793.8,720.5 794.3,722.5 794.8,722.2 795.3,721.5 795.9,723.4 796.4,724.0 796.9,723.4 797.5,722.7 798.0,722.3 798.5,723.1 799.0,723.4 799.6,724.7 800.1,724.9 800.6,724.8 801.2,723.5 801.7,723.8 802.2,723.9 802.7,723.6 803.3,724.4 803.8,724.4 804.3,724.1 804.9,723.9 805.4,724.0 805.9,724.2 806.4,723.9 807.0,725.3 807.5,723.8 808.0,723.9 808.6,724.2 809.1,723.7 809.6,723.7 810.1,723.4 810.7,724.2 811.2,723.0 811.7,723.8 812.3,724.5 812.8,723.2 813.3,723.8 813.8,723.0 814.4,722.1 814.9,722.1 815.4,722.8 816.0,721.7 816.5,719.2 817.0,719.7 817.6,720.1 818.1,719.3 818.6,717.9 819.1,718.0 819.7,718.2 820.2,717.5 820.7,716.9 821.3,717.6 821.8,718.0 822.3,717.2 822.8,717.3 823.4,716.4 823.9,715.7 824.4,713.8 825.0,715.4 825.5,715.0 826.0,714.1 826.5,713.1 827.1,712.0 827.6,712.3 828.1,711.8 828.7,711.4 829.2,710.2 829.7,708.1 830.2,707.3 830.8,706.9 831.3,705.1 831.8,703.1 832.4,701.2 832.9,700.5 833.4,699.2 833.9,699.1 834.5,697.6 835.0,694.5 835.5,695.5 836.1,693.8 836.6,692.7 837.1,692.7 837.6,692.8 838.2,692.5 838.7,692.7 839.2,693.1 839.8,694.6 840.3,694.3 840.8,695.3 841.4,696.1 841.9,696.6 842.4,697.3 842.9,698.1 843.5,699.8 844.0,699.8 844.5,700.5 845.1,701.8 845.6,703.0 846.1,705.3 846.6,706.7 847.2,707.2 847.7,709.6 848.2,709.7 848.8,710.9 849.3,711.6 849.8,713.1 850.3,713.3 850.9,713.1 851.4,713.0 851.9,713.5 852.5,714.7 853.0,715.1 853.5,715.8 854.0,715.4 854.6,716.3 855.1,716.5 855.6,716.1 856.2,717.4 856.7,718.6 857.2,718.3 857.7,718.9 858.3,719.4 858.8,718.3 859.3,719.1 859.9,720.3 860.4,718.6 860.9,717.6 861.4,718.7 862.0,719.3 862.5,719.4 863.0,719.1 863.6,718.9 864.1,718.4 864.6,718.1 865.1,717.9 865.7,717.7 866.2,718.1 866.7,719.7 867.3,719.1 867.8,718.7 868.3,719.2 868.9,718.3 869.4,718.8 869.9,719.0 870.4,717.3 871.0,717.4 871.5,717.9 872.0,717.4 872.6,717.0 873.1,717.2 873.6,718.9 874.1,717.8 874.7,717.5 875.2,718.0 875.7,717.4 876.3,716.4 876.8,717.0 877.3,717.1 877.8,714.7 878.4,715.9 878.9,716.9 879.4,715.9 880.0,715.4 880.5,715.9 881.0,714.6 881.5,714.9 882.1,715.0 882.6,714.1 883.1,713.5 883.7,714.2 884.2,713.4 884.7,713.1 885.2,710.9 885.8,712.6 886.3,711.5 886.8,711.9 887.4,712.1 887.9,711.5 888.4,711.3 888.9,711.0 889.5,711.4 890.0,711.9 890.5,711.8 891.1,711.0 891.6,711.1 892.1,710.7 892.7,711.2 893.2,710.7 893.7,710.0 894.2,710.7 894.8,711.9 895.3,712.1 895.8,712.4 896.4,710.7 896.9,712.1 897.4,710.9 897.9,710.7 898.5,709.8 899.0,710.1 899.5,711.0 900.1,711.4 900.6,711.4 901.1,711.4 901.6,711.9 902.2,711.6 902.7,710.4 903.2,712.4 903.8,711.5 904.3,712.0 904.8,711.6 905.3,711.2 905.9,711.8 906.4,711.3 906.9,712.6 907.5,711.0 908.0,711.9 908.5,711.6 909.0,711.8 909.6,713.7 910.1,712.7 910.6,711.8 911.2,711.0 911.7,711.9 912.2,712.1 912.8,712.9 913.3,711.1 913.8,710.6 914.3,712.0 914.9,712.5 915.4,713.4 915.9,711.8 916.5,710.4 917.0,711.8 917.5,711.7 918.0,711.9 918.6,712.8 919.1,711.5 919.6,713.1 920.2,713.1 920.7,712.8 921.2,712.4 921.7,712.6 922.3,712.5 922.8,713.1 923.3,713.6 923.9,713.0 924.4,713.8 924.9,714.5 925.4,714.5 926.0,713.9 926.5,714.6 927.0,714.4 927.6,714.7 928.1,713.8 928.6,713.7 929.1,712.7 929.7,714.7 930.2,714.2 930.7,712.9 931.3,713.8 931.8,714.4 932.3,713.4 932.8,714.6 933.4,715.2 933.9,715.0 934.4,714.0 935.0,714.1 935.5,715.7 936.0,715.8 936.6,714.7 937.1,714.4 937.6,715.1 938.1,714.4 938.7,714.4 939.2,716.2 939.7,715.6 940.3,715.1 940.8,715.8 941.3,717.0 941.8,715.8 942.4,715.0 942.9,714.6 943.4,717.1 944.0,714.3 944.5,716.1 945.0,715.1 945.5,714.6 946.1,714.8 946.6,715.3 947.1,716.1 947.7,714.9 948.2,715.4 948.7,716.8 949.2,713.5 949.8,714.4 950.3,713.7 950.8,714.8 951.4,712.9 951.9,712.1 952.4,712.0 952.9,713.0 953.5,713.7 954.0,712.6 954.5,713.1 955.1,711.2 955.6,707.7 956.1,705.5 956.6,705.4 957.2,705.4 957.7,704.2 958.2,705.0 958.8,707.1 959.3,707.9 959.8,710.4 960.4,711.3 960.9,710.9 961.4,712.6 961.9,712.6 962.5,713.8 963.0,714.1 963.5,714.3 964.1,716.9 964.6,717.5 965.1,718.6 965.6,719.2 966.2,719.9 966.7,718.0 967.2,717.0 967.8,718.3 968.3,718.8 968.8,717.3 969.3,717.5 969.9,717.1 970.4,718.0 970.9,718.6 971.5,718.4 972.0,720.6 972.5,721.8 973.0,722.8 973.6,721.4 974.1,719.4 974.6,709.9 975.2,701.2 975.7,690.4 976.2,678.5 976.7,667.7 977.3,656.0 977.8,646.3 978.3,637.1 978.9,645.0 979.4,655.0 979.9,667.6 980.4,679.7 981.0,697.4 981.5,713.6 982.0,732.5 982.6,734.4 983.1,729.3 983.6,726.0 984.1,726.4 984.7,723.2 985.2,721.2 985.7,720.8 986.3,722.9 986.8,723.9 987.3,723.9 987.9,723.5 988.4,721.8 988.9,721.4 989.4,719.8 990.0,722.1 990.5,722.9 991.0,724.8 991.6,724.7 992.1,722.5 992.6,723.4 993.1,722.6 993.7,722.9 994.2,723.9 994.7,723.9 995.3,724.1 995.8,724.2 996.3,723.3 996.8,723.1 997.4,723.8 997.9,724.1 998.4,723.3 999.0,723.5 999.5,722.9 1000.0,721.6 1000.5,722.4 1001.1,722.8 1001.6,722.6 1002.1,723.0 1002.7,723.4 1003.2,723.8 1003.7,723.5 1004.2,723.4 1004.8,722.3 1005.3,722.5 1005.8,722.3 1006.4,722.8 1006.9,721.2 1007.4,721.8 1007.9,721.1 1008.5,721.1 1009.0,720.1 1009.5,720.5 1010.1,719.7 1010.6,718.1 1011.1,720.4 1011.7,719.1 1012.2,717.9 1012.7,718.2 1013.2,717.6 1013.8,716.7 1014.3,717.7 1014.8,716.9 1015.4,717.4 1015.9,717.2 1016.4,716.8 1016.9,716.1 1017.5,715.5 1018.0,715.0 1018.5,715.9 1019.1,713.4 1019.6,713.1 1020.1,712.9 1020.6,712.9 1021.2,712.0 1021.7,710.7 1022.2,710.1 1022.8,710.9 1023.3,708.6 1023.8,705.7 1024.3,707.5 1024.9,704.7 1025.4,703.2 1025.9,702.3 1026.5,700.1 1027.0,700.3 1027.5,698.6 1028.0,696.3 1028.6,696.0 1029.1,695.1 1029.6,693.5 1030.2,693.3 1030.7,691.8 1031.2,693.0 1031.8,692.0"/>
<g font-family="'DejaVu Sans','Liberation Sans',sans-serif" font-size="10.4px" letter-spacing="0.45px" fill="#262626">
<text x="79.20" y="758.9" text-anchor="middle">0</text>
<text x="184.98" y="758.9" text-anchor="middle">200</text>
<text x="290.76" y="758.9" text-anchor="middle">400</text>
<text x="396.53" y="758.9" text-anchor="middle">600</text>
<text x="502.31" y="758.9" text-anchor="middle">800</text>
<text x="608.09" y="758.9" text-anchor="middle">1000</text>
<text x="713.87" y="758.9" text-anchor="middle">1200</text>
<text x="819.64" y="758.9" text-anchor="middle">1400</text>
<text x="925.42" y="758.9" text-anchor="middle">1600</text>
<text x="1031.20" y="758.9" text-anchor="middle">1800</text>
<text x="76.5" y="749.20" text-anchor="end">-1</text>
<text x="76.5" y="716.95" text-anchor="end">0</text>
<text x="76.5" y="684.70" text-anchor="end">1</text>
<text x="76.5" y="652.45" text-anchor="end">2</text>
<text x="76.5" y="620.20" text-anchor="end">3</text>
<text x="79.77" y="612.7" fill="#8c8c8c">×</text>
<text x="89.00" y="612.7">10</text>
<text x="103.60" y="607.9" font-size="8.4px">-3</text>
</g>
<rect x="6" y="64" width="42" height="34" fill="#cccccc"/>
<text x="6.8" y="76" font-family="'DejaVu Sans','Liberation Sans',sans-serif" font-weight="bold" font-size="12.6px" letter-spacing="0.5px" fill="#ff0096">Roh-</text>
<rect x="6" y="99" width="42" height="34" fill="#cccccc"/>
<text x="6.8" y="111" font-family="'DejaVu Sans','Liberation Sans',sans-serif" font-weight="bold" font-size="12.6px" letter-spacing="0.15px" fill="#ff0096">Sig.:</text>
<rect x="6" y="271" width="42" height="34" fill="#cccccc"/>
<text x="6.8" y="283" font-family="'DejaVu Sans','Liberation Sans',sans-serif" font-weight="bold" font-size="12.6px" letter-spacing="0px" fill="#0000aa">K1:</text>
<rect x="6" y="469" width="42" height="34" fill="#cccccc"/>
<text x="6.8" y="481" font-family="'DejaVu Sans','Liberation Sans',sans-serif" font-weight="bold" font-size="12.6px" letter-spacing="0px" fill="#0000aa">K2:</text>
<rect x="6" y="667" width="42" height="34" fill="#cccccc"/>
<text x="6.8" y="679" font-family="'DejaVu Sans','Liberation Sans',sans-serif" font-weight="bold" font-size="12.6px" letter-spacing="0px" fill="#0000aa">K3:</text>
</svg>
</body></html>
